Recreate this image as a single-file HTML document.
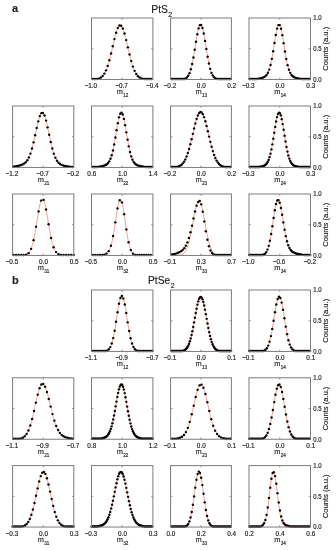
<!DOCTYPE html>
<html><head><meta charset="utf-8"><style>
html,body{margin:0;padding:0;background:#fff;}
body{width:336px;height:550px;overflow:hidden;}
svg{display:block;filter:blur(0.3px);}
text{font-family:"Liberation Sans",sans-serif;fill:#222;stroke:#222;stroke-width:0.15px;}
</style></head><body>
<svg width="336" height="550" viewBox="0 0 336 550">

<text x="12" y="12.4" font-size="11" font-weight="bold" fill="#111">a</text>
<text x="12" y="284.2" font-size="11" font-weight="bold" fill="#111">b</text>
<text x="151.3" y="13.4" font-size="10.3">PtS<tspan font-size="6.9" dx="0.3" dy="3.3">2</tspan></text>
<text x="148" y="284.2" font-size="10.3">PtSe<tspan font-size="6.9" dx="0.3" dy="3.3">2</tspan></text>
<polyline points="91.5,79.41 91.76,79.41 92.01,79.4 92.27,79.4 92.52,79.39 92.78,79.38 93.03,79.37 93.29,79.36 93.55,79.35 93.8,79.34 94.06,79.33 94.31,79.31 94.57,79.29 94.83,79.27 95.08,79.25 95.34,79.23 95.59,79.2 95.85,79.17 96.11,79.14 96.36,79.1 96.62,79.06 96.87,79.02 97.13,78.97 97.38,78.92 97.64,78.86 97.9,78.8 98.15,78.73 98.41,78.65 98.66,78.57 98.92,78.48 99.17,78.38 99.43,78.28 99.69,78.16 99.94,78.04 100.2,77.9 100.45,77.76 100.71,77.6 100.97,77.43 101.22,77.24 101.48,77.05 101.73,76.83 101.99,76.61 102.25,76.36 102.5,76.1 102.76,75.82 103.01,75.53 103.27,75.21 103.52,74.87 103.78,74.52 104.04,74.14 104.29,73.73 104.55,73.31 104.8,72.86 105.06,72.39 105.31,71.89 105.57,71.36 105.83,70.81 106.08,70.23 106.34,69.63 106.59,68.99 106.85,68.33 107.11,67.64 107.36,66.93 107.62,66.18 107.87,65.41 108.13,64.61 108.39,63.78 108.64,62.92 108.9,62.04 109.15,61.13 109.41,60.2 109.66,59.24 109.92,58.26 110.18,57.26 110.43,56.24 110.69,55.2 110.94,54.14 111.2,53.07 111.45,51.99 111.71,50.89 111.97,49.78 112.22,48.67 112.48,47.55 112.73,46.43 112.99,45.31 113.25,44.19 113.5,43.08 113.76,41.97 114.01,40.88 114.27,39.8 114.53,38.74 114.78,37.7 115.04,36.69 115.29,35.7 115.55,34.73 115.8,33.8 116.06,32.91 116.32,32.05 116.57,31.24 116.83,30.46 117.08,29.73 117.34,29.05 117.59,28.42 117.85,27.85 118.11,27.32 118.36,26.85 118.62,26.44 118.87,26.09 119.13,25.8 119.39,25.57 119.64,25.4 119.9,25.3 120.15,25.25 120.41,25.27 120.66,25.36 120.92,25.5 121.18,25.71 121.43,25.98 121.69,26.31 121.94,26.7 122.2,27.14 122.46,27.65 122.71,28.21 122.97,28.82 123.22,29.48 123.48,30.19 123.73,30.95 123.99,31.75 124.25,32.59 124.5,33.47 124.76,34.39 125.01,35.34 125.27,36.32 125.53,37.33 125.78,38.36 126.04,39.41 126.29,40.49 126.55,41.57 126.8,42.67 127.06,43.78 127.32,44.9 127.57,46.02 127.83,47.14 128.08,48.26 128.34,49.38 128.6,50.49 128.85,51.59 129.11,52.68 129.36,53.76 129.62,54.82 129.88,55.87 130.13,56.89 130.39,57.9 130.64,58.89 130.9,59.85 131.15,60.8 131.41,61.71 131.67,62.6 131.92,63.47 132.18,64.31 132.43,65.12 132.69,65.9 132.94,66.66 133.2,67.39 133.46,68.09 133.71,68.76 133.97,69.4 134.22,70.02 134.48,70.6 134.74,71.16 134.99,71.7 135.25,72.21 135.5,72.69 135.76,73.15 136.01,73.58 136.27,73.99 136.53,74.38 136.78,74.75 137.04,75.09 137.29,75.41 137.55,75.72 137.81,76 138.06,76.27 138.32,76.52 138.57,76.75 138.83,76.97 139.09,77.17 139.34,77.36 139.6,77.54 139.85,77.7 140.11,77.85 140.36,77.99 140.62,78.12 140.88,78.24 141.13,78.35 141.39,78.45 141.64,78.54 141.9,78.63 142.16,78.7 142.41,78.77 142.67,78.84 142.92,78.9 143.18,78.95 143.43,79 143.69,79.05 143.95,79.09 144.2,79.13 144.46,79.16 144.71,79.19 144.97,79.22 145.22,79.24 145.48,79.27 145.74,79.29 145.99,79.3 146.25,79.32 146.5,79.33 146.76,79.35 147.02,79.36 147.27,79.37 147.53,79.38 147.78,79.39 148.04,79.39 148.29,79.4 148.55,79.41 148.81,79.41 149.06,79.42 149.32,79.42 149.57,79.42 149.83,79.43 150.09,79.43 150.34,79.43 150.6,79.44 150.85,79.44 151.11,79.44 151.37,79.44 151.62,79.44 151.88,79.44 152.13,79.44 152.39,79.44 152.64,79.45 152.9,79.45" fill="none" stroke="#ec8c80" stroke-width="0.85"/>
<g fill="#0a0505"><circle cx="92.6" cy="78.95" r="1.2"/><circle cx="94.28" cy="78.95" r="1.2"/><circle cx="95.96" cy="78.95" r="1.2"/><circle cx="97.64" cy="78.86" r="1.2"/><circle cx="99.32" cy="78.33" r="1.2"/><circle cx="101" cy="77.4" r="1.2"/><circle cx="102.68" cy="75.91" r="1.2"/><circle cx="104.36" cy="73.62" r="1.2"/><circle cx="106.04" cy="70.33" r="1.2"/><circle cx="107.72" cy="65.88" r="1.2"/><circle cx="109.4" cy="60.23" r="1.2"/><circle cx="111.08" cy="53.57" r="1.2"/><circle cx="112.76" cy="46.31" r="1.2"/><circle cx="114.44" cy="39.09" r="1.2"/><circle cx="116.12" cy="32.71" r="1.2"/><circle cx="117.8" cy="27.96" r="1.2"/><circle cx="119.48" cy="25.5" r="1.2"/><circle cx="121.16" cy="25.69" r="1.2"/><circle cx="122.84" cy="28.51" r="1.2"/><circle cx="124.52" cy="33.54" r="1.2"/><circle cx="126.2" cy="40.09" r="1.2"/><circle cx="127.88" cy="47.37" r="1.2"/><circle cx="129.56" cy="54.57" r="1.2"/><circle cx="131.24" cy="61.11" r="1.2"/><circle cx="132.92" cy="66.59" r="1.2"/><circle cx="134.6" cy="70.87" r="1.2"/><circle cx="136.28" cy="74.01" r="1.2"/><circle cx="137.96" cy="76.17" r="1.2"/><circle cx="139.64" cy="77.57" r="1.2"/><circle cx="141.32" cy="78.42" r="1.2"/><circle cx="143" cy="78.92" r="1.2"/><circle cx="144.68" cy="78.95" r="1.2"/><circle cx="146.36" cy="78.95" r="1.2"/><circle cx="148.04" cy="78.95" r="1.2"/><circle cx="149.72" cy="78.95" r="1.2"/><circle cx="151.4" cy="78.95" r="1.2"/></g>
<rect x="91.5" y="18" width="61.4" height="61.45" fill="none" stroke="#7c7c7c" stroke-width="1"/>
<path d="M91.5 48.73h1.8 M152.9 48.73h-1.8 M122.2 79.45v-1.8 M122.2 18v1.8" stroke="#7c7c7c" stroke-width="0.8" fill="none"/>
<text transform="translate(90.8 88.05) scale(1 1.1)" font-size="6.4" text-anchor="middle">−1.0</text>
<text transform="translate(121.5 88.05) scale(1 1.1)" font-size="6.4" text-anchor="middle">−0.7</text>
<text transform="translate(152.2 88.05) scale(1 1.1)" font-size="6.4" text-anchor="middle">−0.4</text>
<text transform="translate(122.55 94.35) scale(1 1.0)" font-size="7.4" text-anchor="middle">m<tspan font-size="4.6" dx="0.3" dy="2.9">12</tspan></text>
<polyline points="170.6,79.45 170.85,79.45 171.11,79.45 171.36,79.45 171.61,79.45 171.87,79.45 172.12,79.45 172.37,79.45 172.63,79.45 172.88,79.45 173.13,79.45 173.39,79.45 173.64,79.45 173.89,79.45 174.15,79.45 174.4,79.45 174.65,79.45 174.91,79.45 175.16,79.45 175.41,79.45 175.67,79.45 175.92,79.45 176.17,79.45 176.43,79.45 176.68,79.45 176.93,79.45 177.19,79.45 177.44,79.45 177.69,79.45 177.95,79.44 178.2,79.44 178.45,79.44 178.71,79.44 178.96,79.44 179.21,79.43 179.47,79.43 179.72,79.43 179.97,79.42 180.23,79.42 180.48,79.41 180.73,79.4 180.99,79.39 181.24,79.38 181.49,79.37 181.75,79.35 182,79.33 182.25,79.31 182.51,79.29 182.76,79.26 183.01,79.23 183.27,79.19 183.52,79.15 183.77,79.1 184.03,79.04 184.28,78.97 184.53,78.9 184.79,78.81 185.04,78.71 185.29,78.6 185.55,78.48 185.8,78.34 186.05,78.18 186.31,78.01 186.56,77.81 186.81,77.59 187.07,77.35 187.32,77.08 187.57,76.78 187.83,76.45 188.08,76.08 188.33,75.69 188.59,75.25 188.84,74.77 189.09,74.26 189.35,73.7 189.6,73.09 189.85,72.43 190.11,71.73 190.36,70.97 190.61,70.16 190.87,69.3 191.12,68.38 191.37,67.41 191.63,66.38 191.88,65.29 192.13,64.15 192.39,62.95 192.64,61.71 192.89,60.41 193.15,59.06 193.4,57.67 193.65,56.23 193.91,54.76 194.16,53.25 194.41,51.72 194.67,50.16 194.92,48.58 195.17,47 195.43,45.41 195.68,43.82 195.93,42.25 196.19,40.7 196.44,39.17 196.69,37.68 196.95,36.23 197.2,34.83 197.45,33.49 197.71,32.22 197.96,31.03 198.21,29.92 198.47,28.9 198.72,27.98 198.97,27.16 199.23,26.45 199.48,25.85 199.73,25.36 199.99,25 200.24,24.76 200.49,24.65 200.75,24.66 201,24.79 201.25,25.05 201.51,25.43 201.76,25.93 202.01,26.55 202.27,27.28 202.52,28.12 202.77,29.06 203.03,30.09 203.28,31.21 203.53,32.42 203.79,33.7 204.04,35.05 204.29,36.45 204.55,37.91 204.8,39.41 205.05,40.94 205.31,42.5 205.56,44.07 205.81,45.66 206.07,47.25 206.32,48.83 206.57,50.41 206.83,51.96 207.08,53.49 207.33,54.99 207.59,56.46 207.84,57.89 208.09,59.27 208.35,60.61 208.6,61.91 208.85,63.15 209.11,64.33 209.36,65.46 209.61,66.54 209.87,67.56 210.12,68.53 210.37,69.44 210.63,70.29 210.88,71.09 211.13,71.84 211.39,72.54 211.64,73.19 211.89,73.79 212.15,74.34 212.4,74.85 212.65,75.32 212.91,75.75 213.16,76.14 213.41,76.5 213.67,76.83 213.92,77.12 214.17,77.39 214.43,77.63 214.68,77.84 214.93,78.04 215.19,78.21 215.44,78.36 215.69,78.5 215.95,78.62 216.2,78.73 216.45,78.82 216.71,78.91 216.96,78.98 217.21,79.05 217.47,79.1 217.72,79.15 217.97,79.2 218.23,79.23 218.48,79.26 218.73,79.29 218.99,79.32 219.24,79.34 219.49,79.35 219.75,79.37 220,79.38 220.25,79.39 220.51,79.4 220.76,79.41 221.01,79.42 221.27,79.42 221.52,79.43 221.77,79.43 222.03,79.43 222.28,79.44 222.53,79.44 222.79,79.44 223.04,79.44 223.29,79.44 223.55,79.45 223.8,79.45 224.05,79.45 224.31,79.45 224.56,79.45 224.81,79.45 225.07,79.45 225.32,79.45 225.57,79.45 225.83,79.45 226.08,79.45 226.33,79.45 226.59,79.45 226.84,79.45 227.09,79.45 227.35,79.45 227.6,79.45 227.85,79.45 228.11,79.45 228.36,79.45 228.61,79.45 228.87,79.45 229.12,79.45 229.37,79.45 229.63,79.45 229.88,79.45 230.13,79.45 230.39,79.45 230.64,79.45 230.89,79.45 231.15,79.45 231.4,79.45" fill="none" stroke="#ec8c80" stroke-width="0.85"/>
<g fill="#0a0505"><circle cx="171.51" cy="78.95" r="1.2"/><circle cx="172.8" cy="78.95" r="1.2"/><circle cx="174.09" cy="78.95" r="1.2"/><circle cx="175.38" cy="78.95" r="1.2"/><circle cx="176.67" cy="78.95" r="1.2"/><circle cx="177.96" cy="78.95" r="1.2"/><circle cx="179.25" cy="78.95" r="1.2"/><circle cx="180.54" cy="78.95" r="1.2"/><circle cx="181.83" cy="78.95" r="1.2"/><circle cx="183.12" cy="78.95" r="1.2"/><circle cx="184.41" cy="78.93" r="1.2"/><circle cx="185.7" cy="78.4" r="1.2"/><circle cx="186.99" cy="77.42" r="1.2"/><circle cx="188.28" cy="75.77" r="1.2"/><circle cx="189.57" cy="73.16" r="1.2"/><circle cx="190.86" cy="69.32" r="1.2"/><circle cx="192.15" cy="64.07" r="1.2"/><circle cx="193.44" cy="57.44" r="1.2"/><circle cx="194.73" cy="49.77" r="1.2"/><circle cx="196.02" cy="41.72" r="1.2"/><circle cx="197.31" cy="34.24" r="1.2"/><circle cx="198.6" cy="28.4" r="1.2"/><circle cx="199.89" cy="25.13" r="1.2"/><circle cx="201.18" cy="24.96" r="1.2"/><circle cx="202.47" cy="27.94" r="1.2"/><circle cx="203.76" cy="33.56" r="1.2"/><circle cx="205.05" cy="40.92" r="1.2"/><circle cx="206.34" cy="48.96" r="1.2"/><circle cx="207.63" cy="56.71" r="1.2"/><circle cx="208.92" cy="63.46" r="1.2"/><circle cx="210.21" cy="68.86" r="1.2"/><circle cx="211.5" cy="72.84" r="1.2"/><circle cx="212.79" cy="75.56" r="1.2"/><circle cx="214.08" cy="77.29" r="1.2"/><circle cx="215.37" cy="78.32" r="1.2"/><circle cx="216.66" cy="78.89" r="1.2"/><circle cx="217.95" cy="78.95" r="1.2"/><circle cx="219.24" cy="78.95" r="1.2"/><circle cx="220.53" cy="78.95" r="1.2"/><circle cx="221.82" cy="78.95" r="1.2"/><circle cx="223.11" cy="78.95" r="1.2"/><circle cx="224.4" cy="78.95" r="1.2"/><circle cx="225.69" cy="78.95" r="1.2"/><circle cx="226.98" cy="78.95" r="1.2"/><circle cx="228.27" cy="78.95" r="1.2"/><circle cx="229.56" cy="78.95" r="1.2"/><circle cx="230.85" cy="78.95" r="1.2"/></g>
<rect x="170.6" y="18" width="60.8" height="61.45" fill="none" stroke="#7c7c7c" stroke-width="1"/>
<path d="M170.6 48.73h1.8 M231.4 48.73h-1.8 M201 79.45v-1.8 M201 18v1.8" stroke="#7c7c7c" stroke-width="0.8" fill="none"/>
<text transform="translate(169.9 88.05) scale(1 1.1)" font-size="6.4" text-anchor="middle">−0.2</text>
<text transform="translate(201.3 88.05) scale(1 1.1)" font-size="6.4" text-anchor="middle">0.0</text>
<text transform="translate(231.7 88.05) scale(1 1.1)" font-size="6.4" text-anchor="middle">0.2</text>
<text transform="translate(201.35 94.35) scale(1 1.0)" font-size="7.4" text-anchor="middle">m<tspan font-size="4.6" dx="0.3" dy="2.9">13</tspan></text>
<polyline points="249,79.38 249.26,79.38 249.51,79.37 249.77,79.37 250.03,79.36 250.28,79.35 250.54,79.34 250.79,79.34 251.05,79.33 251.31,79.32 251.56,79.31 251.82,79.3 252.07,79.29 252.33,79.28 252.59,79.26 252.84,79.25 253.1,79.24 253.36,79.22 253.61,79.21 253.87,79.19 254.12,79.17 254.38,79.16 254.64,79.14 254.89,79.12 255.15,79.1 255.41,79.07 255.66,79.05 255.92,79.03 256.18,79 256.43,78.97 256.69,78.94 256.94,78.92 257.2,78.88 257.46,78.85 257.71,78.82 257.97,78.78 258.23,78.74 258.48,78.7 258.74,78.66 258.99,78.62 259.25,78.57 259.51,78.53 259.76,78.48 260.02,78.43 260.27,78.37 260.53,78.32 260.79,78.26 261.04,78.19 261.3,78.13 261.56,78.06 261.81,77.98 262.07,77.9 262.32,77.82 262.58,77.73 262.84,77.64 263.09,77.54 263.35,77.43 263.61,77.31 263.86,77.18 264.12,77.05 264.38,76.9 264.63,76.74 264.89,76.57 265.14,76.38 265.4,76.18 265.66,75.95 265.91,75.71 266.17,75.44 266.43,75.15 266.68,74.83 266.94,74.48 267.19,74.1 267.45,73.69 267.71,73.24 267.96,72.75 268.22,72.22 268.48,71.64 268.73,71.01 268.99,70.34 269.24,69.61 269.5,68.83 269.76,67.99 270.01,67.1 270.27,66.14 270.52,65.12 270.78,64.05 271.04,62.91 271.29,61.71 271.55,60.45 271.81,59.14 272.06,57.77 272.32,56.34 272.57,54.87 272.83,53.36 273.09,51.81 273.34,50.22 273.6,48.61 273.86,46.98 274.11,45.34 274.37,43.69 274.62,42.06 274.88,40.44 275.14,38.85 275.39,37.29 275.65,35.78 275.91,34.33 276.16,32.94 276.42,31.64 276.68,30.41 276.93,29.29 277.19,28.27 277.44,27.37 277.7,26.58 277.96,25.92 278.21,25.39 278.47,25 278.73,24.75 278.98,24.64 279.24,24.67 279.49,24.85 279.75,25.17 280.01,25.62 280.26,26.21 280.52,26.93 280.77,27.77 281.03,28.73 281.29,29.8 281.54,30.97 281.8,32.23 282.06,33.58 282.31,34.99 282.57,36.47 282.82,38.01 283.08,39.58 283.34,41.19 283.59,42.81 283.85,44.45 284.11,46.1 284.36,47.73 284.62,49.36 284.88,50.96 285.13,52.53 285.39,54.07 285.64,55.56 285.9,57.01 286.16,58.41 286.41,59.75 286.67,61.04 286.93,62.27 287.18,63.44 287.44,64.55 287.69,65.6 287.95,66.59 288.21,67.52 288.46,68.39 288.72,69.2 288.98,69.96 289.23,70.66 289.49,71.31 289.74,71.91 290,72.47 290.26,72.98 290.51,73.45 290.77,73.89 291.02,74.28 291.28,74.65 291.54,74.98 291.79,75.29 292.05,75.57 292.31,75.82 292.56,76.06 292.82,76.27 293.07,76.47 293.33,76.65 293.59,76.82 293.84,76.97 294.1,77.11 294.36,77.24 294.61,77.37 294.87,77.48 295.12,77.58 295.38,77.68 295.64,77.77 295.89,77.86 296.15,77.94 296.41,78.02 296.66,78.09 296.92,78.16 297.18,78.22 297.43,78.28 297.69,78.34 297.94,78.4 298.2,78.45 298.46,78.5 298.71,78.55 298.97,78.6 299.23,78.64 299.48,78.68 299.74,78.72 299.99,78.76 300.25,78.8 300.51,78.83 300.76,78.87 301.02,78.9 301.27,78.93 301.53,78.96 301.79,78.99 302.04,79.01 302.3,79.04 302.56,79.06 302.81,79.08 303.07,79.11 303.32,79.13 303.58,79.15 303.84,79.17 304.09,79.18 304.35,79.2 304.61,79.22 304.86,79.23 305.12,79.24 305.38,79.26 305.63,79.27 305.89,79.28 306.14,79.29 306.4,79.3 306.66,79.31 306.91,79.32 307.17,79.33 307.43,79.34 307.68,79.35 307.94,79.36 308.19,79.36 308.45,79.37 308.71,79.37 308.96,79.38 309.22,79.39 309.48,79.39 309.73,79.39 309.99,79.4 310.24,79.4 310.5,79.41" fill="none" stroke="#ec8c80" stroke-width="0.85"/>
<g fill="#0a0505"><circle cx="249.59" cy="78.95" r="1.2"/><circle cx="250.9" cy="78.95" r="1.2"/><circle cx="252.21" cy="78.95" r="1.2"/><circle cx="253.52" cy="78.95" r="1.2"/><circle cx="254.83" cy="78.95" r="1.2"/><circle cx="256.14" cy="78.95" r="1.2"/><circle cx="257.45" cy="78.85" r="1.2"/><circle cx="258.76" cy="78.66" r="1.2"/><circle cx="260.07" cy="78.42" r="1.2"/><circle cx="261.38" cy="78.1" r="1.2"/><circle cx="262.69" cy="77.69" r="1.2"/><circle cx="264" cy="77.11" r="1.2"/><circle cx="265.31" cy="76.25" r="1.2"/><circle cx="266.62" cy="74.91" r="1.2"/><circle cx="267.93" cy="72.81" r="1.2"/><circle cx="269.24" cy="69.62" r="1.2"/><circle cx="270.55" cy="65.02" r="1.2"/><circle cx="271.86" cy="58.85" r="1.2"/><circle cx="273.17" cy="51.3" r="1.2"/><circle cx="274.48" cy="42.98" r="1.2"/><circle cx="275.79" cy="34.98" r="1.2"/><circle cx="277.1" cy="28.61" r="1.2"/><circle cx="278.41" cy="25.08" r="1.2"/><circle cx="279.72" cy="25.12" r="1.2"/><circle cx="281.03" cy="28.73" r="1.2"/><circle cx="282.34" cy="35.15" r="1.2"/><circle cx="283.65" cy="43.17" r="1.2"/><circle cx="284.96" cy="51.48" r="1.2"/><circle cx="286.27" cy="59.01" r="1.2"/><circle cx="287.58" cy="65.14" r="1.2"/><circle cx="288.89" cy="69.71" r="1.2"/><circle cx="290.2" cy="72.87" r="1.2"/><circle cx="291.51" cy="74.95" r="1.2"/><circle cx="292.82" cy="76.27" r="1.2"/><circle cx="294.13" cy="77.13" r="1.2"/><circle cx="295.44" cy="77.7" r="1.2"/><circle cx="296.75" cy="78.11" r="1.2"/><circle cx="298.06" cy="78.42" r="1.2"/><circle cx="299.37" cy="78.66" r="1.2"/><circle cx="300.68" cy="78.86" r="1.2"/><circle cx="301.99" cy="78.95" r="1.2"/><circle cx="303.3" cy="78.95" r="1.2"/><circle cx="304.61" cy="78.95" r="1.2"/><circle cx="305.92" cy="78.95" r="1.2"/><circle cx="307.23" cy="78.95" r="1.2"/><circle cx="308.54" cy="78.95" r="1.2"/><circle cx="309.85" cy="78.95" r="1.2"/></g>
<rect x="249" y="18" width="61.5" height="61.45" fill="none" stroke="#7c7c7c" stroke-width="1"/>
<path d="M249 48.73h1.8 M310.5 48.73h-1.8 M279.75 79.45v-1.8 M279.75 18v1.8" stroke="#7c7c7c" stroke-width="0.8" fill="none"/>
<text transform="translate(248.3 88.05) scale(1 1.1)" font-size="6.4" text-anchor="middle">−0.3</text>
<text transform="translate(280.05 88.05) scale(1 1.1)" font-size="6.4" text-anchor="middle">0.0</text>
<text transform="translate(310.8 88.05) scale(1 1.1)" font-size="6.4" text-anchor="middle">0.3</text>
<text transform="translate(280.1 94.35) scale(1 1.0)" font-size="7.4" text-anchor="middle">m<tspan font-size="4.6" dx="0.3" dy="2.9">14</tspan></text>
<text transform="translate(313.3 20.4) scale(1 1.17)" font-size="6.0">1.0</text>
<text transform="translate(313.3 51.12) scale(1 1.17)" font-size="6.0">0.5</text>
<text transform="translate(313.3 81.85) scale(1 1.17)" font-size="6.0">0.0</text>
<text transform="translate(328.3 48.73) rotate(-90) scale(1.1 1)" font-size="6.9" text-anchor="middle">Counts (a.u.)</text>
<polyline points="12.6,166.74 12.86,166.71 13.11,166.68 13.37,166.65 13.62,166.62 13.88,166.59 14.13,166.55 14.38,166.52 14.64,166.48 14.89,166.45 15.15,166.41 15.4,166.37 15.66,166.33 15.91,166.29 16.17,166.25 16.43,166.21 16.68,166.16 16.93,166.12 17.19,166.07 17.45,166.02 17.7,165.97 17.95,165.92 18.21,165.86 18.46,165.81 18.72,165.75 18.98,165.69 19.23,165.62 19.48,165.56 19.74,165.49 20,165.42 20.25,165.34 20.5,165.26 20.76,165.18 21.02,165.1 21.27,165.01 21.52,164.91 21.78,164.81 22.04,164.71 22.29,164.6 22.55,164.48 22.8,164.35 23.05,164.22 23.31,164.08 23.56,163.93 23.82,163.78 24.07,163.61 24.33,163.43 24.59,163.24 24.84,163.04 25.09,162.83 25.35,162.6 25.61,162.36 25.86,162.1 26.12,161.82 26.37,161.53 26.62,161.21 26.88,160.88 27.13,160.53 27.39,160.16 27.64,159.76 27.9,159.34 28.16,158.89 28.41,158.42 28.66,157.92 28.92,157.39 29.17,156.84 29.43,156.25 29.69,155.64 29.94,154.99 30.2,154.31 30.45,153.61 30.7,152.86 30.96,152.09 31.22,151.28 31.47,150.45 31.73,149.58 31.98,148.67 32.23,147.74 32.49,146.78 32.74,145.78 33,144.76 33.25,143.71 33.51,142.64 33.77,141.54 34.02,140.43 34.27,139.29 34.53,138.14 34.79,136.97 35.04,135.79 35.3,134.6 35.55,133.41 35.8,132.21 36.06,131.02 36.31,129.83 36.57,128.65 36.83,127.49 37.08,126.34 37.34,125.21 37.59,124.1 37.84,123.03 38.1,121.99 38.36,120.98 38.61,120.02 38.87,119.1 39.12,118.23 39.38,117.41 39.63,116.65 39.89,115.94 40.14,115.3 40.4,114.72 40.65,114.21 40.91,113.76 41.16,113.39 41.41,113.09 41.67,112.87 41.92,112.72 42.18,112.65 42.44,112.65 42.69,112.73 42.95,112.89 43.2,113.13 43.46,113.45 43.71,113.84 43.97,114.31 44.22,114.84 44.48,115.45 44.73,116.13 44.99,116.87 45.24,117.67 45.5,118.52 45.75,119.43 46.01,120.39 46.26,121.39 46.52,122.44 46.77,123.52 47.02,124.64 47.28,125.78 47.53,126.95 47.79,128.14 48.05,129.35 48.3,130.56 48.56,131.79 48.81,133.02 49.07,134.25 49.32,135.47 49.58,136.69 49.83,137.9 50.09,139.09 50.34,140.27 50.6,141.42 50.85,142.56 51.11,143.67 51.36,144.76 51.62,145.82 51.87,146.85 52.12,147.85 52.38,148.82 52.63,149.76 52.89,150.66 53.15,151.53 53.4,152.37 53.66,153.17 53.91,153.94 54.17,154.67 54.42,155.37 54.68,156.04 54.93,156.67 55.19,157.28 55.44,157.85 55.7,158.39 55.95,158.9 56.21,159.39 56.46,159.84 56.72,160.28 56.97,160.68 57.23,161.06 57.48,161.42 57.73,161.76 57.99,162.07 58.25,162.37 58.5,162.65 58.76,162.91 59.01,163.15 59.27,163.38 59.52,163.59 59.77,163.79 60.03,163.98 60.28,164.15 60.54,164.32 60.8,164.47 61.05,164.61 61.31,164.75 61.56,164.87 61.82,164.99 62.07,165.1 62.33,165.21 62.58,165.31 62.84,165.4 63.09,165.49 63.35,165.57 63.6,165.65 63.86,165.73 64.11,165.8 64.36,165.87 64.62,165.93 64.88,165.99 65.13,166.05 65.39,166.11 65.64,166.16 65.89,166.21 66.15,166.26 66.41,166.31 66.66,166.35 66.92,166.4 67.17,166.44 67.42,166.48 67.68,166.52 67.94,166.55 68.19,166.59 68.45,166.63 68.7,166.66 68.95,166.69 69.21,166.72 69.47,166.75 69.72,166.78 69.97,166.81 70.23,166.84 70.48,166.86 70.74,166.89 71,166.91 71.25,166.93 71.5,166.96 71.76,166.98 72.02,167 72.27,167.02 72.52,167.04 72.78,167.06 73.04,167.07 73.29,167.09 73.55,167.11 73.8,167.12" fill="none" stroke="#ec8c80" stroke-width="0.85"/>
<g fill="#0a0505"><circle cx="13.3" cy="166.66" r="1.2"/><circle cx="14.86" cy="166.45" r="1.2"/><circle cx="16.42" cy="166.21" r="1.2"/><circle cx="17.98" cy="165.91" r="1.2"/><circle cx="19.54" cy="165.54" r="1.2"/><circle cx="21.1" cy="165.07" r="1.2"/><circle cx="22.66" cy="164.42" r="1.2"/><circle cx="24.22" cy="163.51" r="1.2"/><circle cx="25.78" cy="162.18" r="1.2"/><circle cx="27.34" cy="160.23" r="1.2"/><circle cx="28.9" cy="157.44" r="1.2"/><circle cx="30.46" cy="153.58" r="1.2"/><circle cx="32.02" cy="148.53" r="1.2"/><circle cx="33.58" cy="142.34" r="1.2"/><circle cx="35.14" cy="135.32" r="1.2"/><circle cx="36.7" cy="128.06" r="1.2"/><circle cx="38.26" cy="121.35" r="1.2"/><circle cx="39.82" cy="116.12" r="1.2"/><circle cx="41.38" cy="113.13" r="1.2"/><circle cx="42.94" cy="112.89" r="1.2"/><circle cx="44.5" cy="115.52" r="1.2"/><circle cx="46.06" cy="120.6" r="1.2"/><circle cx="47.62" cy="127.35" r="1.2"/><circle cx="49.18" cy="134.8" r="1.2"/><circle cx="50.74" cy="142.07" r="1.2"/><circle cx="52.3" cy="148.52" r="1.2"/><circle cx="53.86" cy="153.79" r="1.2"/><circle cx="55.42" cy="157.8" r="1.2"/><circle cx="56.98" cy="160.7" r="1.2"/><circle cx="58.54" cy="162.69" r="1.2"/><circle cx="60.1" cy="164.03" r="1.2"/><circle cx="61.66" cy="164.92" r="1.2"/><circle cx="63.22" cy="165.53" r="1.2"/><circle cx="64.78" cy="165.97" r="1.2"/><circle cx="66.34" cy="166.3" r="1.2"/><circle cx="67.9" cy="166.55" r="1.2"/><circle cx="69.46" cy="166.75" r="1.2"/><circle cx="71.02" cy="166.91" r="1.2"/><circle cx="72.58" cy="166.95" r="1.2"/></g>
<rect x="12.6" y="106" width="61.2" height="61.45" fill="none" stroke="#7c7c7c" stroke-width="1"/>
<path d="M12.6 136.72h1.8 M73.8 136.72h-1.8 M43.2 167.45v-1.8 M43.2 106v1.8" stroke="#7c7c7c" stroke-width="0.8" fill="none"/>
<text transform="translate(11.9 176.05) scale(1 1.1)" font-size="6.4" text-anchor="middle">−1.2</text>
<text transform="translate(42.5 176.05) scale(1 1.1)" font-size="6.4" text-anchor="middle">−0.7</text>
<text transform="translate(73.1 176.05) scale(1 1.1)" font-size="6.4" text-anchor="middle">−0.2</text>
<text transform="translate(43.55 182.35) scale(1 1.0)" font-size="7.4" text-anchor="middle">m<tspan font-size="4.6" dx="0.3" dy="2.9">21</tspan></text>
<polyline points="91.5,167.31 91.76,167.3 92.01,167.29 92.27,167.28 92.52,167.27 92.78,167.26 93.03,167.25 93.29,167.23 93.55,167.22 93.8,167.21 94.06,167.19 94.31,167.18 94.57,167.16 94.83,167.14 95.08,167.13 95.34,167.11 95.59,167.09 95.85,167.07 96.11,167.05 96.36,167.03 96.62,167 96.87,166.98 97.13,166.95 97.38,166.93 97.64,166.9 97.9,166.87 98.15,166.84 98.41,166.81 98.66,166.78 98.92,166.75 99.17,166.71 99.43,166.68 99.69,166.64 99.94,166.6 100.2,166.56 100.45,166.52 100.71,166.48 100.97,166.43 101.22,166.38 101.48,166.33 101.73,166.28 101.99,166.23 102.25,166.17 102.5,166.11 102.76,166.05 103.01,165.98 103.27,165.91 103.52,165.84 103.78,165.76 104.04,165.68 104.29,165.59 104.55,165.49 104.8,165.39 105.06,165.28 105.31,165.16 105.57,165.04 105.83,164.9 106.08,164.75 106.34,164.59 106.59,164.42 106.85,164.23 107.11,164.02 107.36,163.79 107.62,163.55 107.87,163.28 108.13,162.99 108.39,162.68 108.64,162.33 108.9,161.96 109.15,161.56 109.41,161.12 109.66,160.64 109.92,160.12 110.18,159.57 110.43,158.97 110.69,158.32 110.94,157.63 111.2,156.89 111.45,156.1 111.71,155.25 111.97,154.36 112.22,153.41 112.48,152.4 112.73,151.34 112.99,150.23 113.25,149.06 113.5,147.84 113.76,146.57 114.01,145.25 114.27,143.89 114.53,142.48 114.78,141.04 115.04,139.56 115.29,138.06 115.55,136.53 115.8,134.99 116.06,133.44 116.32,131.89 116.57,130.34 116.83,128.81 117.08,127.3 117.34,125.81 117.59,124.37 117.85,122.98 118.11,121.64 118.36,120.36 118.62,119.16 118.87,118.04 119.13,117.01 119.39,116.07 119.64,115.24 119.9,114.51 120.15,113.9 120.41,113.4 120.66,113.03 120.92,112.78 121.18,112.65 121.43,112.65 121.69,112.78 121.94,113.04 122.2,113.42 122.46,113.92 122.71,114.53 122.97,115.26 123.22,116.1 123.48,117.04 123.73,118.08 123.99,119.2 124.25,120.41 124.5,121.68 124.76,123.03 125.01,124.42 125.27,125.87 125.53,127.35 125.78,128.86 126.04,130.4 126.29,131.94 126.55,133.5 126.8,135.05 127.06,136.59 127.32,138.11 127.57,139.62 127.83,141.09 128.08,142.53 128.34,143.94 128.6,145.3 128.85,146.61 129.11,147.88 129.36,149.1 129.62,150.27 129.88,151.38 130.13,152.44 130.39,153.44 130.64,154.39 130.9,155.28 131.15,156.13 131.41,156.92 131.67,157.66 131.92,158.35 132.18,158.99 132.43,159.59 132.69,160.14 132.94,160.66 133.2,161.13 133.46,161.57 133.71,161.97 133.97,162.35 134.22,162.69 134.48,163 134.74,163.29 134.99,163.56 135.25,163.8 135.5,164.03 135.76,164.23 136.01,164.42 136.27,164.6 136.53,164.76 136.78,164.9 137.04,165.04 137.29,165.17 137.55,165.29 137.81,165.39 138.06,165.5 138.32,165.59 138.57,165.68 138.83,165.76 139.09,165.84 139.34,165.91 139.6,165.98 139.85,166.05 140.11,166.11 140.36,166.17 140.62,166.23 140.88,166.28 141.13,166.34 141.39,166.39 141.64,166.43 141.9,166.48 142.16,166.52 142.41,166.56 142.67,166.6 142.92,166.64 143.18,166.68 143.43,166.72 143.69,166.75 143.95,166.78 144.2,166.81 144.46,166.85 144.71,166.87 144.97,166.9 145.22,166.93 145.48,166.96 145.74,166.98 145.99,167 146.25,167.03 146.5,167.05 146.76,167.07 147.02,167.09 147.27,167.11 147.53,167.13 147.78,167.15 148.04,167.16 148.29,167.18 148.55,167.19 148.81,167.21 149.06,167.22 149.32,167.23 149.57,167.25 149.83,167.26 150.09,167.27 150.34,167.28 150.6,167.29 150.85,167.3 151.11,167.31 151.37,167.32 151.62,167.33 151.88,167.33 152.13,167.34 152.39,167.35 152.64,167.35 152.9,167.36" fill="none" stroke="#ec8c80" stroke-width="0.85"/>
<g fill="#0a0505"><circle cx="92.2" cy="166.95" r="1.2"/><circle cx="93.42" cy="166.95" r="1.2"/><circle cx="94.64" cy="166.95" r="1.2"/><circle cx="95.86" cy="166.95" r="1.2"/><circle cx="97.08" cy="166.95" r="1.2"/><circle cx="98.3" cy="166.83" r="1.2"/><circle cx="99.52" cy="166.67" r="1.2"/><circle cx="100.74" cy="166.47" r="1.2"/><circle cx="101.96" cy="166.23" r="1.2"/><circle cx="103.18" cy="165.94" r="1.2"/><circle cx="104.4" cy="165.55" r="1.2"/><circle cx="105.62" cy="165.01" r="1.2"/><circle cx="106.84" cy="164.23" r="1.2"/><circle cx="108.06" cy="163.07" r="1.2"/><circle cx="109.28" cy="161.34" r="1.2"/><circle cx="110.5" cy="158.8" r="1.2"/><circle cx="111.72" cy="155.22" r="1.2"/><circle cx="112.94" cy="150.45" r="1.2"/><circle cx="114.16" cy="144.47" r="1.2"/><circle cx="115.38" cy="137.54" r="1.2"/><circle cx="116.6" cy="130.17" r="1.2"/><circle cx="117.82" cy="123.14" r="1.2"/><circle cx="119.04" cy="117.36" r="1.2"/><circle cx="120.26" cy="113.68" r="1.2"/><circle cx="121.48" cy="112.67" r="1.2"/><circle cx="122.7" cy="114.5" r="1.2"/><circle cx="123.92" cy="118.88" r="1.2"/><circle cx="125.14" cy="125.13" r="1.2"/><circle cx="126.36" cy="132.35" r="1.2"/><circle cx="127.58" cy="139.66" r="1.2"/><circle cx="128.8" cy="146.35" r="1.2"/><circle cx="130.02" cy="151.99" r="1.2"/><circle cx="131.24" cy="156.4" r="1.2"/><circle cx="132.46" cy="159.65" r="1.2"/><circle cx="133.68" cy="161.93" r="1.2"/><circle cx="134.9" cy="163.47" r="1.2"/><circle cx="136.12" cy="164.5" r="1.2"/><circle cx="137.34" cy="165.19" r="1.2"/><circle cx="138.56" cy="165.67" r="1.2"/><circle cx="139.78" cy="166.03" r="1.2"/><circle cx="141" cy="166.31" r="1.2"/><circle cx="142.22" cy="166.53" r="1.2"/><circle cx="143.44" cy="166.72" r="1.2"/><circle cx="144.66" cy="166.87" r="1.2"/><circle cx="145.88" cy="166.95" r="1.2"/><circle cx="147.1" cy="166.95" r="1.2"/><circle cx="148.32" cy="166.95" r="1.2"/><circle cx="149.54" cy="166.95" r="1.2"/><circle cx="150.76" cy="166.95" r="1.2"/><circle cx="151.98" cy="166.95" r="1.2"/></g>
<rect x="91.5" y="106" width="61.4" height="61.45" fill="none" stroke="#7c7c7c" stroke-width="1"/>
<path d="M91.5 136.72h1.8 M152.9 136.72h-1.8 M122.2 167.45v-1.8 M122.2 106v1.8" stroke="#7c7c7c" stroke-width="0.8" fill="none"/>
<text transform="translate(91.8 176.05) scale(1 1.1)" font-size="6.4" text-anchor="middle">0.6</text>
<text transform="translate(122.5 176.05) scale(1 1.1)" font-size="6.4" text-anchor="middle">1.0</text>
<text transform="translate(153.2 176.05) scale(1 1.1)" font-size="6.4" text-anchor="middle">1.4</text>
<text transform="translate(122.55 182.35) scale(1 1.0)" font-size="7.4" text-anchor="middle">m<tspan font-size="4.6" dx="0.3" dy="2.9">22</tspan></text>
<polyline points="170.6,167.42 170.85,167.41 171.11,167.41 171.36,167.4 171.61,167.4 171.87,167.39 172.12,167.38 172.37,167.37 172.63,167.36 172.88,167.35 173.13,167.34 173.39,167.33 173.64,167.31 173.89,167.3 174.15,167.28 174.4,167.26 174.65,167.24 174.91,167.21 175.16,167.19 175.41,167.16 175.67,167.12 175.92,167.09 176.17,167.05 176.43,167.01 176.68,166.96 176.93,166.91 177.19,166.85 177.44,166.79 177.69,166.72 177.95,166.65 178.2,166.57 178.45,166.49 178.71,166.39 178.96,166.29 179.21,166.19 179.47,166.07 179.72,165.94 179.97,165.8 180.23,165.66 180.48,165.5 180.73,165.33 180.99,165.15 181.24,164.95 181.49,164.74 181.75,164.52 182,164.28 182.25,164.03 182.51,163.76 182.76,163.47 183.01,163.16 183.27,162.84 183.52,162.49 183.77,162.13 184.03,161.74 184.28,161.34 184.53,160.91 184.79,160.46 185.04,159.99 185.29,159.49 185.55,158.97 185.8,158.42 186.05,157.85 186.31,157.25 186.56,156.63 186.81,155.98 187.07,155.31 187.32,154.61 187.57,153.88 187.83,153.13 188.08,152.35 188.33,151.55 188.59,150.72 188.84,149.87 189.09,148.99 189.35,148.09 189.6,147.17 189.85,146.22 190.11,145.26 190.36,144.27 190.61,143.27 190.87,142.25 191.12,141.21 191.37,140.17 191.63,139.1 191.88,138.03 192.13,136.95 192.39,135.87 192.64,134.78 192.89,133.69 193.15,132.6 193.4,131.51 193.65,130.42 193.91,129.35 194.16,128.28 194.41,127.23 194.67,126.19 194.92,125.17 195.17,124.17 195.43,123.19 195.68,122.24 195.93,121.32 196.19,120.43 196.44,119.57 196.69,118.75 196.95,117.96 197.2,117.22 197.45,116.51 197.71,115.86 197.96,115.25 198.21,114.68 198.47,114.17 198.72,113.71 198.97,113.3 199.23,112.95 199.48,112.65 199.73,112.41 199.99,112.23 200.24,112.1 200.49,112.03 200.75,112.03 201,112.07 201.25,112.18 201.51,112.35 201.76,112.57 202.01,112.85 202.27,113.19 202.52,113.58 202.77,114.02 203.03,114.52 203.28,115.06 203.53,115.66 203.79,116.3 204.04,116.99 204.29,117.72 204.55,118.49 204.8,119.3 205.05,120.15 205.31,121.03 205.56,121.95 205.81,122.89 206.07,123.86 206.32,124.85 206.57,125.87 206.83,126.9 207.08,127.95 207.33,129.01 207.59,130.08 207.84,131.16 208.09,132.25 208.35,133.34 208.6,134.43 208.85,135.53 209.11,136.61 209.36,137.69 209.61,138.77 209.87,139.83 210.12,140.88 210.37,141.92 210.63,142.95 210.88,143.96 211.13,144.95 211.39,145.92 211.64,146.87 211.89,147.8 212.15,148.71 212.4,149.59 212.65,150.45 212.91,151.29 213.16,152.1 213.41,152.89 213.67,153.65 213.92,154.38 214.17,155.09 214.43,155.77 214.68,156.43 214.93,157.06 215.19,157.67 215.44,158.24 215.69,158.8 215.95,159.33 216.2,159.83 216.45,160.31 216.71,160.77 216.96,161.21 217.21,161.62 217.47,162.01 217.72,162.38 217.97,162.73 218.23,163.06 218.48,163.37 218.73,163.67 218.99,163.94 219.24,164.2 219.49,164.45 219.75,164.67 220,164.89 220.25,165.09 220.51,165.27 220.76,165.45 221.01,165.61 221.27,165.76 221.52,165.9 221.77,166.03 222.03,166.15 222.28,166.26 222.53,166.36 222.79,166.46 223.04,166.55 223.29,166.63 223.55,166.7 223.8,166.77 224.05,166.83 224.31,166.89 224.56,166.94 224.81,166.99 225.07,167.04 225.32,167.08 225.57,167.11 225.83,167.15 226.08,167.18 226.33,167.2 226.59,167.23 226.84,167.25 227.09,167.27 227.35,167.29 227.6,167.31 227.85,167.32 228.11,167.34 228.36,167.35 228.61,167.36 228.87,167.37 229.12,167.38 229.37,167.39 229.63,167.39 229.88,167.4 230.13,167.41 230.39,167.41 230.64,167.42 230.89,167.42 231.15,167.42 231.4,167.43" fill="none" stroke="#ec8c80" stroke-width="0.85"/>
<g fill="#0a0505"><circle cx="171.6" cy="166.95" r="1.2"/><circle cx="172.85" cy="166.95" r="1.2"/><circle cx="174.1" cy="166.95" r="1.2"/><circle cx="175.35" cy="166.95" r="1.2"/><circle cx="176.6" cy="166.95" r="1.2"/><circle cx="177.85" cy="166.68" r="1.2"/><circle cx="179.1" cy="166.23" r="1.2"/><circle cx="180.35" cy="165.58" r="1.2"/><circle cx="181.6" cy="164.65" r="1.2"/><circle cx="182.85" cy="163.36" r="1.2"/><circle cx="184.1" cy="161.63" r="1.2"/><circle cx="185.35" cy="159.38" r="1.2"/><circle cx="186.6" cy="156.53" r="1.2"/><circle cx="187.85" cy="153.06" r="1.2"/><circle cx="189.1" cy="148.97" r="1.2"/><circle cx="190.35" cy="144.31" r="1.2"/><circle cx="191.6" cy="139.22" r="1.2"/><circle cx="192.85" cy="133.87" r="1.2"/><circle cx="194.1" cy="128.53" r="1.2"/><circle cx="195.35" cy="123.49" r="1.2"/><circle cx="196.6" cy="119.04" r="1.2"/><circle cx="197.85" cy="115.5" r="1.2"/><circle cx="199.1" cy="113.12" r="1.2"/><circle cx="200.35" cy="112.07" r="1.2"/><circle cx="201.6" cy="112.42" r="1.2"/><circle cx="202.85" cy="114.16" r="1.2"/><circle cx="204.1" cy="117.16" r="1.2"/><circle cx="205.35" cy="121.19" r="1.2"/><circle cx="206.6" cy="125.97" r="1.2"/><circle cx="207.85" cy="131.21" r="1.2"/><circle cx="209.1" cy="136.58" r="1.2"/><circle cx="210.35" cy="141.83" r="1.2"/><circle cx="211.6" cy="146.72" r="1.2"/><circle cx="212.85" cy="151.11" r="1.2"/><circle cx="214.1" cy="154.89" r="1.2"/><circle cx="215.35" cy="158.04" r="1.2"/><circle cx="216.6" cy="160.58" r="1.2"/><circle cx="217.85" cy="162.56" r="1.2"/><circle cx="219.1" cy="164.06" r="1.2"/><circle cx="220.35" cy="165.16" r="1.2"/><circle cx="221.6" cy="165.94" r="1.2"/><circle cx="222.85" cy="166.48" r="1.2"/><circle cx="224.1" cy="166.84" r="1.2"/><circle cx="225.35" cy="166.95" r="1.2"/><circle cx="226.6" cy="166.95" r="1.2"/><circle cx="227.85" cy="166.95" r="1.2"/><circle cx="229.1" cy="166.95" r="1.2"/><circle cx="230.35" cy="166.95" r="1.2"/></g>
<rect x="170.6" y="106" width="60.8" height="61.45" fill="none" stroke="#7c7c7c" stroke-width="1"/>
<path d="M170.6 136.72h1.8 M231.4 136.72h-1.8 M201 167.45v-1.8 M201 106v1.8" stroke="#7c7c7c" stroke-width="0.8" fill="none"/>
<text transform="translate(169.9 176.05) scale(1 1.1)" font-size="6.4" text-anchor="middle">−0.2</text>
<text transform="translate(201.3 176.05) scale(1 1.1)" font-size="6.4" text-anchor="middle">0.0</text>
<text transform="translate(231.7 176.05) scale(1 1.1)" font-size="6.4" text-anchor="middle">0.2</text>
<text transform="translate(201.35 182.35) scale(1 1.0)" font-size="7.4" text-anchor="middle">m<tspan font-size="4.6" dx="0.3" dy="2.9">23</tspan></text>
<polyline points="249,167.41 249.26,167.41 249.51,167.41 249.77,167.4 250.03,167.4 250.28,167.39 250.54,167.39 250.79,167.38 251.05,167.38 251.31,167.37 251.56,167.37 251.82,167.36 252.07,167.36 252.33,167.35 252.59,167.34 252.84,167.34 253.1,167.33 253.36,167.32 253.61,167.31 253.87,167.3 254.12,167.29 254.38,167.28 254.64,167.27 254.89,167.26 255.15,167.25 255.41,167.23 255.66,167.22 255.92,167.2 256.18,167.19 256.43,167.17 256.69,167.16 256.94,167.14 257.2,167.12 257.46,167.1 257.71,167.08 257.97,167.06 258.23,167.03 258.48,167.01 258.74,166.98 258.99,166.96 259.25,166.93 259.51,166.9 259.76,166.87 260.02,166.83 260.27,166.8 260.53,166.76 260.79,166.72 261.04,166.67 261.3,166.62 261.56,166.57 261.81,166.52 262.07,166.46 262.32,166.39 262.58,166.32 262.84,166.24 263.09,166.16 263.35,166.06 263.61,165.96 263.86,165.85 264.12,165.73 264.38,165.59 264.63,165.44 264.89,165.28 265.14,165.09 265.4,164.89 265.66,164.67 265.91,164.43 266.17,164.16 266.43,163.86 266.68,163.54 266.94,163.18 267.19,162.8 267.45,162.37 267.71,161.9 267.96,161.4 268.22,160.85 268.48,160.25 268.73,159.61 268.99,158.91 269.24,158.16 269.5,157.36 269.76,156.5 270.01,155.58 270.27,154.61 270.52,153.57 270.78,152.47 271.04,151.32 271.29,150.11 271.55,148.84 271.81,147.51 272.06,146.14 272.32,144.71 272.57,143.24 272.83,141.72 273.09,140.17 273.34,138.6 273.6,136.99 273.86,135.37 274.11,133.74 274.37,132.11 274.62,130.49 274.88,128.88 275.14,127.3 275.39,125.76 275.65,124.25 275.91,122.8 276.16,121.42 276.42,120.1 276.68,118.87 276.93,117.73 277.19,116.69 277.44,115.75 277.7,114.93 277.96,114.22 278.21,113.64 278.47,113.19 278.73,112.87 278.98,112.69 279.24,112.64 279.49,112.73 279.75,112.95 280.01,113.31 280.26,113.8 280.52,114.42 280.77,115.16 281.03,116.01 281.29,116.98 281.54,118.06 281.8,119.22 282.06,120.48 282.31,121.82 282.57,123.22 282.82,124.69 283.08,126.2 283.34,127.76 283.59,129.35 283.85,130.96 284.11,132.59 284.36,134.22 284.62,135.85 284.88,137.46 285.13,139.06 285.39,140.63 285.64,142.17 285.9,143.67 286.16,145.13 286.41,146.54 286.67,147.91 286.93,149.21 287.18,150.47 287.44,151.66 287.69,152.8 287.95,153.88 288.21,154.9 288.46,155.86 288.72,156.76 288.98,157.6 289.23,158.39 289.49,159.12 289.74,159.8 290,160.43 290.26,161.01 290.51,161.55 290.77,162.04 291.02,162.5 291.28,162.91 291.54,163.29 291.79,163.64 292.05,163.95 292.31,164.24 292.56,164.5 292.82,164.74 293.07,164.95 293.33,165.15 293.59,165.33 293.84,165.49 294.1,165.63 294.36,165.76 294.61,165.88 294.87,165.99 295.12,166.09 295.38,166.18 295.64,166.27 295.89,166.34 296.15,166.41 296.41,166.47 296.66,166.53 296.92,166.59 297.18,166.64 297.43,166.68 297.69,166.73 297.94,166.77 298.2,166.81 298.46,166.84 298.71,166.88 298.97,166.91 299.23,166.94 299.48,166.96 299.74,166.99 299.99,167.02 300.25,167.04 300.51,167.06 300.76,167.08 301.02,167.11 301.27,167.12 301.53,167.14 301.79,167.16 302.04,167.18 302.3,167.19 302.56,167.21 302.81,167.22 303.07,167.24 303.32,167.25 303.58,167.26 303.84,167.27 304.09,167.28 304.35,167.29 304.61,167.3 304.86,167.31 305.12,167.32 305.38,167.33 305.63,167.34 305.89,167.35 306.14,167.35 306.4,167.36 306.66,167.36 306.91,167.37 307.17,167.38 307.43,167.38 307.68,167.39 307.94,167.39 308.19,167.39 308.45,167.4 308.71,167.4 308.96,167.41 309.22,167.41 309.48,167.41 309.73,167.42 309.99,167.42 310.24,167.42 310.5,167.42" fill="none" stroke="#ec8c80" stroke-width="0.85"/>
<g fill="#0a0505"><circle cx="249.82" cy="166.95" r="1.2"/><circle cx="250.76" cy="166.95" r="1.2"/><circle cx="251.7" cy="166.95" r="1.2"/><circle cx="252.64" cy="166.95" r="1.2"/><circle cx="253.58" cy="166.95" r="1.2"/><circle cx="254.52" cy="166.95" r="1.2"/><circle cx="255.46" cy="166.95" r="1.2"/><circle cx="256.4" cy="166.95" r="1.2"/><circle cx="257.34" cy="166.95" r="1.2"/><circle cx="258.28" cy="166.95" r="1.2"/><circle cx="259.22" cy="166.93" r="1.2"/><circle cx="260.16" cy="166.81" r="1.2"/><circle cx="261.1" cy="166.66" r="1.2"/><circle cx="262.04" cy="166.46" r="1.2"/><circle cx="262.98" cy="166.2" r="1.2"/><circle cx="263.92" cy="165.82" r="1.2"/><circle cx="264.86" cy="165.29" r="1.2"/><circle cx="265.8" cy="164.54" r="1.2"/><circle cx="266.74" cy="163.46" r="1.2"/><circle cx="267.68" cy="161.95" r="1.2"/><circle cx="268.62" cy="159.89" r="1.2"/><circle cx="269.56" cy="157.16" r="1.2"/><circle cx="270.5" cy="153.67" r="1.2"/><circle cx="271.44" cy="149.39" r="1.2"/><circle cx="272.38" cy="144.36" r="1.2"/><circle cx="273.32" cy="138.74" r="1.2"/><circle cx="274.26" cy="132.8" r="1.2"/><circle cx="275.2" cy="126.92" r="1.2"/><circle cx="276.14" cy="121.54" r="1.2"/><circle cx="277.08" cy="117.11" r="1.2"/><circle cx="278.02" cy="114.07" r="1.2"/><circle cx="278.96" cy="112.7" r="1.2"/><circle cx="279.9" cy="113.14" r="1.2"/><circle cx="280.84" cy="115.36" r="1.2"/><circle cx="281.78" cy="119.13" r="1.2"/><circle cx="282.72" cy="124.08" r="1.2"/><circle cx="283.66" cy="129.77" r="1.2"/><circle cx="284.6" cy="135.73" r="1.2"/><circle cx="285.54" cy="141.55" r="1.2"/><circle cx="286.48" cy="146.91" r="1.2"/><circle cx="287.42" cy="151.58" r="1.2"/><circle cx="288.36" cy="155.48" r="1.2"/><circle cx="289.3" cy="158.59" r="1.2"/><circle cx="290.24" cy="160.98" r="1.2"/><circle cx="291.18" cy="162.75" r="1.2"/><circle cx="292.12" cy="164.04" r="1.2"/><circle cx="293.06" cy="164.94" r="1.2"/><circle cx="294" cy="165.58" r="1.2"/><circle cx="294.94" cy="166.02" r="1.2"/><circle cx="295.88" cy="166.34" r="1.2"/><circle cx="296.82" cy="166.57" r="1.2"/><circle cx="297.76" cy="166.74" r="1.2"/><circle cx="298.7" cy="166.87" r="1.2"/><circle cx="299.64" cy="166.95" r="1.2"/><circle cx="300.58" cy="166.95" r="1.2"/><circle cx="301.52" cy="166.95" r="1.2"/><circle cx="302.46" cy="166.95" r="1.2"/><circle cx="303.4" cy="166.95" r="1.2"/><circle cx="304.34" cy="166.95" r="1.2"/><circle cx="305.28" cy="166.95" r="1.2"/><circle cx="306.22" cy="166.95" r="1.2"/><circle cx="307.16" cy="166.95" r="1.2"/><circle cx="308.1" cy="166.95" r="1.2"/><circle cx="309.04" cy="166.95" r="1.2"/><circle cx="309.98" cy="166.95" r="1.2"/></g>
<rect x="249" y="106" width="61.5" height="61.45" fill="none" stroke="#7c7c7c" stroke-width="1"/>
<path d="M249 136.72h1.8 M310.5 136.72h-1.8 M279.75 167.45v-1.8 M279.75 106v1.8" stroke="#7c7c7c" stroke-width="0.8" fill="none"/>
<text transform="translate(248.3 176.05) scale(1 1.1)" font-size="6.4" text-anchor="middle">−0.3</text>
<text transform="translate(280.05 176.05) scale(1 1.1)" font-size="6.4" text-anchor="middle">0.0</text>
<text transform="translate(310.8 176.05) scale(1 1.1)" font-size="6.4" text-anchor="middle">0.3</text>
<text transform="translate(280.1 182.35) scale(1 1.0)" font-size="7.4" text-anchor="middle">m<tspan font-size="4.6" dx="0.3" dy="2.9">24</tspan></text>
<text transform="translate(313.3 108.4) scale(1 1.17)" font-size="6.0">1.0</text>
<text transform="translate(313.3 139.12) scale(1 1.17)" font-size="6.0">0.5</text>
<text transform="translate(313.3 169.85) scale(1 1.17)" font-size="6.0">0.0</text>
<text transform="translate(328.3 136.72) rotate(-90) scale(1.1 1)" font-size="6.9" text-anchor="middle">Counts (a.u.)</text>
<polyline points="12.6,255.45 12.86,255.45 13.11,255.45 13.37,255.45 13.62,255.45 13.88,255.45 14.13,255.45 14.38,255.45 14.64,255.45 14.89,255.45 15.15,255.45 15.4,255.45 15.66,255.45 15.91,255.45 16.17,255.45 16.43,255.45 16.68,255.45 16.93,255.45 17.19,255.45 17.45,255.45 17.7,255.45 17.95,255.45 18.21,255.45 18.46,255.45 18.72,255.45 18.98,255.44 19.23,255.44 19.48,255.44 19.74,255.44 20,255.44 20.25,255.43 20.5,255.43 20.76,255.43 21.02,255.42 21.27,255.42 21.52,255.41 21.78,255.4 22.04,255.39 22.29,255.38 22.55,255.37 22.8,255.36 23.05,255.34 23.31,255.32 23.56,255.3 23.82,255.27 24.07,255.24 24.33,255.21 24.59,255.17 24.84,255.12 25.09,255.07 25.35,255.01 25.61,254.94 25.86,254.87 26.12,254.78 26.37,254.68 26.62,254.57 26.88,254.45 27.13,254.31 27.39,254.15 27.64,253.97 27.9,253.78 28.16,253.56 28.41,253.32 28.66,253.06 28.92,252.76 29.17,252.44 29.43,252.08 29.69,251.7 29.94,251.27 30.2,250.81 30.45,250.31 30.7,249.77 30.96,249.18 31.22,248.55 31.47,247.87 31.73,247.14 31.98,246.35 32.23,245.52 32.49,244.64 32.74,243.7 33,242.7 33.25,241.66 33.51,240.55 33.77,239.4 34.02,238.19 34.27,236.93 34.53,235.62 34.79,234.27 35.04,232.87 35.3,231.43 35.55,229.95 35.8,228.44 36.06,226.9 36.31,225.34 36.57,223.77 36.83,222.18 37.08,220.59 37.34,219 37.59,217.41 37.84,215.85 38.1,214.31 38.36,212.8 38.61,211.33 38.87,209.91 39.12,208.54 39.38,207.24 39.63,206 39.89,204.85 40.14,203.78 40.4,202.79 40.65,201.91 40.91,201.13 41.16,200.45 41.41,199.88 41.67,199.43 41.92,199.1 42.18,198.89 42.44,198.8 42.69,198.83 42.95,198.97 43.2,199.24 43.46,199.62 43.71,200.11 43.97,200.71 44.22,201.42 44.48,202.24 44.73,203.14 44.99,204.14 45.24,205.23 45.5,206.39 45.75,207.63 46.01,208.93 46.26,210.29 46.52,211.7 46.77,213.16 47.02,214.65 47.28,216.16 47.53,217.7 47.79,219.25 48.05,220.81 48.3,222.37 48.56,223.92 48.81,225.46 49.07,226.98 49.32,228.48 49.58,229.95 49.83,231.39 50.09,232.79 50.34,234.15 50.6,235.46 50.85,236.73 51.11,237.95 51.36,239.13 51.62,240.25 51.87,241.32 52.12,242.34 52.38,243.31 52.63,244.22 52.89,245.09 53.15,245.9 53.4,246.66 53.66,247.38 53.91,248.05 54.17,248.67 54.42,249.25 54.68,249.79 54.93,250.29 55.19,250.75 55.44,251.17 55.7,251.56 55.95,251.92 56.21,252.25 56.46,252.55 56.72,252.82 56.97,253.07 57.23,253.3 57.48,253.51 57.73,253.69 57.99,253.86 58.25,254.02 58.5,254.16 58.76,254.28 59.01,254.39 59.27,254.5 59.52,254.59 59.77,254.67 60.03,254.74 60.28,254.81 60.54,254.87 60.8,254.92 61.05,254.97 61.31,255.02 61.56,255.06 61.82,255.09 62.07,255.12 62.33,255.15 62.58,255.18 62.84,255.2 63.09,255.22 63.35,255.24 63.6,255.26 63.86,255.27 64.11,255.29 64.36,255.3 64.62,255.31 64.88,255.32 65.13,255.33 65.39,255.34 65.64,255.35 65.89,255.36 66.15,255.37 66.41,255.37 66.66,255.38 66.92,255.39 67.17,255.39 67.42,255.4 67.68,255.4 67.94,255.4 68.19,255.41 68.45,255.41 68.7,255.41 68.95,255.42 69.21,255.42 69.47,255.42 69.72,255.42 69.97,255.43 70.23,255.43 70.48,255.43 70.74,255.43 71,255.43 71.25,255.43 71.5,255.44 71.76,255.44 72.02,255.44 72.27,255.44 72.52,255.44 72.78,255.44 73.04,255.44 73.29,255.44 73.55,255.44 73.8,255.44" fill="none" stroke="#ec8c80" stroke-width="0.85"/>
<g fill="#0a0505"><circle cx="13.6" cy="254.95" r="1.2"/><circle cx="16.1" cy="254.95" r="1.2"/><circle cx="18.6" cy="254.95" r="1.2"/><circle cx="21.1" cy="254.95" r="1.2"/><circle cx="23.6" cy="254.95" r="1.2"/><circle cx="26.1" cy="254.79" r="1.2"/><circle cx="28.6" cy="253.13" r="1.2"/><circle cx="31.1" cy="248.84" r="1.2"/><circle cx="33.6" cy="240.15" r="1.2"/><circle cx="36.1" cy="226.66" r="1.2"/><circle cx="38.6" cy="211.39" r="1.2"/><circle cx="41.1" cy="200.6" r="1.2"/><circle cx="43.6" cy="199.88" r="1.2"/><circle cx="46.1" cy="209.43" r="1.2"/><circle cx="48.6" cy="224.2" r="1.2"/><circle cx="51.1" cy="237.93" r="1.2"/><circle cx="53.6" cy="247.23" r="1.2"/><circle cx="56.1" cy="252.12" r="1.2"/><circle cx="58.6" cy="254.21" r="1.2"/><circle cx="61.1" cy="254.95" r="1.2"/><circle cx="63.6" cy="254.95" r="1.2"/><circle cx="66.1" cy="254.95" r="1.2"/><circle cx="68.6" cy="254.95" r="1.2"/><circle cx="71.1" cy="254.95" r="1.2"/><circle cx="73.6" cy="254.95" r="1.2"/></g>
<rect x="12.6" y="194" width="61.2" height="61.45" fill="none" stroke="#7c7c7c" stroke-width="1"/>
<path d="M12.6 224.72h1.8 M73.8 224.72h-1.8 M43.2 255.45v-1.8 M43.2 194v1.8" stroke="#7c7c7c" stroke-width="0.8" fill="none"/>
<text transform="translate(11.9 264.05) scale(1 1.1)" font-size="6.4" text-anchor="middle">−0.5</text>
<text transform="translate(43.5 264.05) scale(1 1.1)" font-size="6.4" text-anchor="middle">0.0</text>
<text transform="translate(74.1 264.05) scale(1 1.1)" font-size="6.4" text-anchor="middle">0.5</text>
<text transform="translate(43.55 270.35) scale(1 1.0)" font-size="7.4" text-anchor="middle">m<tspan font-size="4.6" dx="0.3" dy="2.9">31</tspan></text>
<polyline points="91.5,255.43 91.76,255.43 92.01,255.43 92.27,255.43 92.52,255.43 92.78,255.42 93.03,255.42 93.29,255.42 93.55,255.41 93.8,255.41 94.06,255.41 94.31,255.4 94.57,255.4 94.83,255.4 95.08,255.39 95.34,255.39 95.59,255.38 95.85,255.38 96.11,255.37 96.36,255.36 96.62,255.36 96.87,255.35 97.13,255.34 97.38,255.33 97.64,255.33 97.9,255.32 98.15,255.31 98.41,255.29 98.66,255.28 98.92,255.27 99.17,255.26 99.43,255.24 99.69,255.23 99.94,255.21 100.2,255.2 100.45,255.18 100.71,255.16 100.97,255.14 101.22,255.11 101.48,255.09 101.73,255.06 101.99,255.03 102.25,255 102.5,254.97 102.76,254.93 103.01,254.89 103.27,254.84 103.52,254.79 103.78,254.74 104.04,254.67 104.29,254.61 104.55,254.53 104.8,254.45 105.06,254.36 105.31,254.26 105.57,254.14 105.83,254.02 106.08,253.88 106.34,253.72 106.59,253.54 106.85,253.35 107.11,253.14 107.36,252.9 107.62,252.63 107.87,252.34 108.13,252.01 108.39,251.66 108.64,251.27 108.9,250.83 109.15,250.36 109.41,249.84 109.66,249.28 109.92,248.67 110.18,248 110.43,247.28 110.69,246.51 110.94,245.67 111.2,244.78 111.45,243.82 111.71,242.8 111.97,241.71 112.22,240.57 112.48,239.35 112.73,238.08 112.99,236.74 113.25,235.35 113.5,233.9 113.76,232.4 114.01,230.85 114.27,229.25 114.53,227.62 114.78,225.96 115.04,224.28 115.29,222.58 115.55,220.87 115.8,219.16 116.06,217.47 116.32,215.79 116.57,214.15 116.83,212.55 117.08,210.99 117.34,209.5 117.59,208.09 117.85,206.75 118.11,205.51 118.36,204.36 118.62,203.33 118.87,202.42 119.13,201.62 119.39,200.96 119.64,200.44 119.9,200.05 120.15,199.81 120.41,199.72 120.66,199.77 120.92,199.98 121.18,200.35 121.43,200.87 121.69,201.54 121.94,202.35 122.2,203.3 122.46,204.37 122.71,205.57 122.97,206.88 123.22,208.28 123.48,209.78 123.73,211.35 123.99,212.99 124.25,214.69 124.5,216.42 124.76,218.19 125.01,219.99 125.27,221.79 125.53,223.59 125.78,225.37 126.04,227.14 126.29,228.88 126.55,230.59 126.8,232.25 127.06,233.86 127.32,235.42 127.57,236.91 127.83,238.35 128.08,239.72 128.34,241.02 128.6,242.24 128.85,243.4 129.11,244.49 129.36,245.51 129.62,246.46 129.88,247.34 130.13,248.16 130.39,248.91 130.64,249.6 130.9,250.24 131.15,250.81 131.41,251.34 131.67,251.81 131.92,252.24 132.18,252.63 132.43,252.98 132.69,253.29 132.94,253.57 133.2,253.81 133.46,254.03 133.71,254.22 133.97,254.39 134.22,254.54 134.48,254.67 134.74,254.79 134.99,254.88 135.25,254.97 135.5,255.04 135.76,255.11 136.01,255.16 136.27,255.21 136.53,255.25 136.78,255.28 137.04,255.31 137.29,255.33 137.55,255.35 137.81,255.37 138.06,255.38 138.32,255.4 138.57,255.41 138.83,255.41 139.09,255.42 139.34,255.43 139.6,255.43 139.85,255.43 140.11,255.44 140.36,255.44 140.62,255.44 140.88,255.44 141.13,255.44 141.39,255.45 141.64,255.45 141.9,255.45 142.16,255.45 142.41,255.45 142.67,255.45 142.92,255.45 143.18,255.45 143.43,255.45 143.69,255.45 143.95,255.45 144.2,255.45 144.46,255.45 144.71,255.45 144.97,255.45 145.22,255.45 145.48,255.45 145.74,255.45 145.99,255.45 146.25,255.45 146.5,255.45 146.76,255.45 147.02,255.45 147.27,255.45 147.53,255.45 147.78,255.45 148.04,255.45 148.29,255.45 148.55,255.45 148.81,255.45 149.06,255.45 149.32,255.45 149.57,255.45 149.83,255.45 150.09,255.45 150.34,255.45 150.6,255.45 150.85,255.45 151.11,255.45 151.37,255.45 151.62,255.45 151.88,255.45 152.13,255.45 152.39,255.45 152.64,255.45 152.9,255.45" fill="none" stroke="#ec8c80" stroke-width="0.85"/>
<g fill="#0a0505"><circle cx="93.23" cy="254.95" r="1.2"/><circle cx="95.44" cy="254.95" r="1.2"/><circle cx="97.65" cy="254.95" r="1.2"/><circle cx="99.86" cy="254.95" r="1.2"/><circle cx="102.07" cy="254.95" r="1.2"/><circle cx="104.28" cy="254.61" r="1.2"/><circle cx="106.49" cy="253.62" r="1.2"/><circle cx="108.7" cy="251.17" r="1.2"/><circle cx="110.91" cy="245.78" r="1.2"/><circle cx="113.12" cy="236.04" r="1.2"/><circle cx="115.33" cy="222.33" r="1.2"/><circle cx="117.54" cy="208.39" r="1.2"/><circle cx="119.75" cy="200.26" r="1.2"/><circle cx="121.96" cy="202.41" r="1.2"/><circle cx="124.17" cy="214.17" r="1.2"/><circle cx="126.38" cy="229.47" r="1.2"/><circle cx="128.59" cy="242.22" r="1.2"/><circle cx="130.8" cy="250" r="1.2"/><circle cx="133.01" cy="253.63" r="1.2"/><circle cx="135.22" cy="254.95" r="1.2"/><circle cx="137.43" cy="254.95" r="1.2"/><circle cx="139.64" cy="254.95" r="1.2"/><circle cx="141.85" cy="254.95" r="1.2"/><circle cx="144.06" cy="254.95" r="1.2"/><circle cx="146.27" cy="254.95" r="1.2"/><circle cx="148.48" cy="254.95" r="1.2"/><circle cx="150.69" cy="254.95" r="1.2"/></g>
<rect x="91.5" y="194" width="61.4" height="61.45" fill="none" stroke="#7c7c7c" stroke-width="1"/>
<path d="M91.5 224.72h1.8 M152.9 224.72h-1.8 M122.2 255.45v-1.8 M122.2 194v1.8" stroke="#7c7c7c" stroke-width="0.8" fill="none"/>
<text transform="translate(90.8 264.05) scale(1 1.1)" font-size="6.4" text-anchor="middle">−0.5</text>
<text transform="translate(122.5 264.05) scale(1 1.1)" font-size="6.4" text-anchor="middle">0.0</text>
<text transform="translate(153.2 264.05) scale(1 1.1)" font-size="6.4" text-anchor="middle">0.5</text>
<text transform="translate(122.55 270.35) scale(1 1.0)" font-size="7.4" text-anchor="middle">m<tspan font-size="4.6" dx="0.3" dy="2.9">32</tspan></text>
<polyline points="170.6,255.45 170.85,255.45 171.11,255.45 171.36,255.45 171.61,255.45 171.87,255.45 172.12,255.45 172.37,255.45 172.63,255.45 172.88,255.45 173.13,255.45 173.39,255.44 173.64,255.44 173.89,255.44 174.15,255.44 174.4,255.44 174.65,255.44 174.91,255.43 175.16,255.43 175.41,255.43 175.67,255.42 175.92,255.42 176.17,255.41 176.43,255.41 176.68,255.4 176.93,255.39 177.19,255.38 177.44,255.37 177.69,255.35 177.95,255.34 178.2,255.32 178.45,255.3 178.71,255.28 178.96,255.25 179.21,255.22 179.47,255.19 179.72,255.15 179.97,255.1 180.23,255.05 180.48,255 180.73,254.93 180.99,254.86 181.24,254.78 181.49,254.69 181.75,254.59 182,254.48 182.25,254.36 182.51,254.22 182.76,254.07 183.01,253.9 183.27,253.72 183.52,253.51 183.77,253.29 184.03,253.05 184.28,252.78 184.53,252.49 184.79,252.17 185.04,251.82 185.29,251.45 185.55,251.04 185.8,250.6 186.05,250.13 186.31,249.63 186.56,249.08 186.81,248.5 187.07,247.88 187.32,247.22 187.57,246.52 187.83,245.77 188.08,244.98 188.33,244.15 188.59,243.27 188.84,242.35 189.09,241.39 189.35,240.38 189.6,239.33 189.85,238.23 190.11,237.1 190.36,235.93 190.61,234.71 190.87,233.47 191.12,232.19 191.37,230.88 191.63,229.54 191.88,228.18 192.13,226.8 192.39,225.41 192.64,224.01 192.89,222.59 193.15,221.18 193.4,219.77 193.65,218.38 193.91,216.99 194.16,215.63 194.41,214.29 194.67,212.99 194.92,211.72 195.17,210.5 195.43,209.33 195.68,208.21 195.93,207.15 196.19,206.16 196.44,205.24 196.69,204.39 196.95,203.63 197.2,202.95 197.45,202.35 197.71,201.85 197.96,201.44 198.21,201.12 198.47,200.9 198.72,200.78 198.97,200.76 199.23,200.84 199.48,201.02 199.73,201.29 199.99,201.66 200.24,202.13 200.49,202.69 200.75,203.33 201,204.06 201.25,204.87 201.51,205.76 201.76,206.73 202.01,207.76 202.27,208.85 202.52,210 202.77,211.2 203.03,212.45 203.28,213.74 203.53,215.06 203.79,216.42 204.04,217.79 204.29,219.18 204.55,220.59 204.8,222 205.05,223.41 205.31,224.82 205.56,226.22 205.81,227.6 206.07,228.97 206.32,230.32 206.57,231.64 206.83,232.93 207.08,234.19 207.33,235.42 207.59,236.61 207.84,237.76 208.09,238.87 208.35,239.94 208.6,240.97 208.85,241.95 209.11,242.89 209.36,243.79 209.61,244.64 209.87,245.44 210.12,246.21 210.37,246.93 210.63,247.61 210.88,248.25 211.13,248.84 211.39,249.4 211.64,249.92 211.89,250.41 212.15,250.86 212.4,251.28 212.65,251.67 212.91,252.03 213.16,252.36 213.41,252.66 213.67,252.94 213.92,253.19 214.17,253.42 214.43,253.63 214.68,253.83 214.93,254 215.19,254.16 215.44,254.3 215.69,254.43 215.95,254.55 216.2,254.65 216.45,254.75 216.71,254.83 216.96,254.9 217.21,254.97 217.47,255.03 217.72,255.08 217.97,255.13 218.23,255.17 218.48,255.21 218.73,255.24 218.99,255.27 219.24,255.29 219.49,255.31 219.75,255.33 220,255.35 220.25,255.36 220.51,255.38 220.76,255.39 221.01,255.4 221.27,255.4 221.52,255.41 221.77,255.42 222.03,255.42 222.28,255.43 222.53,255.43 222.79,255.43 223.04,255.44 223.29,255.44 223.55,255.44 223.8,255.44 224.05,255.44 224.31,255.44 224.56,255.44 224.81,255.45 225.07,255.45 225.32,255.45 225.57,255.45 225.83,255.45 226.08,255.45 226.33,255.45 226.59,255.45 226.84,255.45 227.09,255.45 227.35,255.45 227.6,255.45 227.85,255.45 228.11,255.45 228.36,255.45 228.61,255.45 228.87,255.45 229.12,255.45 229.37,255.45 229.63,255.45 229.88,255.45 230.13,255.45 230.39,255.45 230.64,255.45 230.89,255.45 231.15,255.45 231.4,255.45" fill="none" stroke="#ec8c80" stroke-width="0.85"/>
<g fill="#0a0505"><circle cx="171.96" cy="254.55" r="1.2"/><circle cx="173.5" cy="254.25" r="1.2"/><circle cx="175.04" cy="253.87" r="1.2"/><circle cx="176.58" cy="253.4" r="1.2"/><circle cx="178.12" cy="252.82" r="1.2"/><circle cx="179.66" cy="252.09" r="1.2"/><circle cx="181.2" cy="251.13" r="1.2"/><circle cx="182.74" cy="249.87" r="1.2"/><circle cx="184.28" cy="248.13" r="1.2"/><circle cx="185.82" cy="245.71" r="1.2"/><circle cx="187.36" cy="242.38" r="1.2"/><circle cx="188.9" cy="237.94" r="1.2"/><circle cx="190.44" cy="232.31" r="1.2"/><circle cx="191.98" cy="225.65" r="1.2"/><circle cx="193.52" cy="218.43" r="1.2"/><circle cx="195.06" cy="211.44" r="1.2"/><circle cx="196.6" cy="205.63" r="1.2"/><circle cx="198.14" cy="201.93" r="1.2"/><circle cx="199.68" cy="201.03" r="1.2"/><circle cx="201.22" cy="204.37" r="1.2"/><circle cx="202.76" cy="211.77" r="1.2"/><circle cx="204.3" cy="221.41" r="1.2"/><circle cx="205.84" cy="231.28" r="1.2"/><circle cx="207.38" cy="239.81" r="1.2"/><circle cx="208.92" cy="246.23" r="1.2"/><circle cx="210.46" cy="250.5" r="1.2"/><circle cx="212" cy="253.03" r="1.2"/><circle cx="213.54" cy="254.37" r="1.2"/><circle cx="215.08" cy="254.95" r="1.2"/><circle cx="216.62" cy="254.95" r="1.2"/><circle cx="218.16" cy="254.95" r="1.2"/><circle cx="219.7" cy="254.95" r="1.2"/><circle cx="221.24" cy="254.95" r="1.2"/><circle cx="222.78" cy="254.95" r="1.2"/><circle cx="224.32" cy="254.95" r="1.2"/><circle cx="225.86" cy="254.95" r="1.2"/><circle cx="227.4" cy="254.95" r="1.2"/><circle cx="228.94" cy="254.95" r="1.2"/><circle cx="230.48" cy="254.95" r="1.2"/></g>
<rect x="170.6" y="194" width="60.8" height="61.45" fill="none" stroke="#7c7c7c" stroke-width="1"/>
<path d="M170.6 224.72h1.8 M231.4 224.72h-1.8 M201 255.45v-1.8 M201 194v1.8" stroke="#7c7c7c" stroke-width="0.8" fill="none"/>
<text transform="translate(169.9 264.05) scale(1 1.1)" font-size="6.4" text-anchor="middle">−0.1</text>
<text transform="translate(201.3 264.05) scale(1 1.1)" font-size="6.4" text-anchor="middle">0.3</text>
<text transform="translate(231.7 264.05) scale(1 1.1)" font-size="6.4" text-anchor="middle">0.7</text>
<text transform="translate(201.35 270.35) scale(1 1.0)" font-size="7.4" text-anchor="middle">m<tspan font-size="4.6" dx="0.3" dy="2.9">33</tspan></text>
<polyline points="249,255.45 249.26,255.45 249.51,255.45 249.77,255.45 250.03,255.45 250.28,255.45 250.54,255.45 250.79,255.45 251.05,255.45 251.31,255.45 251.56,255.45 251.82,255.45 252.07,255.45 252.33,255.45 252.59,255.45 252.84,255.45 253.1,255.45 253.36,255.45 253.61,255.45 253.87,255.45 254.12,255.45 254.38,255.45 254.64,255.45 254.89,255.45 255.15,255.45 255.41,255.45 255.66,255.45 255.92,255.45 256.18,255.45 256.43,255.45 256.69,255.44 256.94,255.44 257.2,255.44 257.46,255.44 257.71,255.44 257.97,255.43 258.23,255.43 258.48,255.43 258.74,255.42 258.99,255.42 259.25,255.41 259.51,255.4 259.76,255.39 260.02,255.37 260.27,255.36 260.53,255.34 260.79,255.32 261.04,255.29 261.3,255.26 261.56,255.23 261.81,255.19 262.07,255.14 262.32,255.08 262.58,255.02 262.84,254.94 263.09,254.85 263.35,254.75 263.61,254.64 263.86,254.51 264.12,254.36 264.38,254.19 264.63,254 264.89,253.78 265.14,253.54 265.4,253.27 265.66,252.97 265.91,252.63 266.17,252.25 266.43,251.84 266.68,251.38 266.94,250.87 267.19,250.32 267.45,249.71 267.71,249.05 267.96,248.33 268.22,247.56 268.48,246.72 268.73,245.82 268.99,244.85 269.24,243.82 269.5,242.72 269.76,241.55 270.01,240.32 270.27,239.03 270.52,237.67 270.78,236.25 271.04,234.77 271.29,233.24 271.55,231.66 271.81,230.03 272.06,228.36 272.32,226.67 272.57,224.95 272.83,223.21 273.09,221.46 273.34,219.72 273.6,217.99 273.86,216.28 274.11,214.6 274.37,212.96 274.62,211.37 274.88,209.85 275.14,208.4 275.39,207.04 275.65,205.76 275.91,204.6 276.16,203.54 276.42,202.6 276.68,201.79 276.93,201.12 277.19,200.58 277.44,200.19 277.7,199.94 277.96,199.84 278.21,199.88 278.47,200.06 278.73,200.38 278.98,200.82 279.24,201.4 279.49,202.1 279.75,202.91 280.01,203.84 280.26,204.87 280.52,206 280.77,207.22 281.03,208.51 281.29,209.88 281.54,211.31 281.8,212.79 282.06,214.32 282.31,215.87 282.57,217.45 282.82,219.05 283.08,220.65 283.34,222.24 283.59,223.83 283.85,225.4 284.11,226.94 284.36,228.45 284.62,229.92 284.88,231.36 285.13,232.75 285.39,234.08 285.64,235.37 285.9,236.6 286.16,237.78 286.41,238.9 286.67,239.96 286.93,240.96 287.18,241.91 287.44,242.8 287.69,243.63 287.95,244.41 288.21,245.14 288.46,245.82 288.72,246.45 288.98,247.04 289.23,247.58 289.49,248.09 289.74,248.55 290,248.98 290.26,249.37 290.51,249.74 290.77,250.07 291.02,250.38 291.28,250.67 291.54,250.93 291.79,251.17 292.05,251.4 292.31,251.61 292.56,251.8 292.82,251.98 293.07,252.14 293.33,252.3 293.59,252.44 293.84,252.58 294.1,252.71 294.36,252.83 294.61,252.94 294.87,253.05 295.12,253.15 295.38,253.24 295.64,253.34 295.89,253.42 296.15,253.51 296.41,253.59 296.66,253.67 296.92,253.74 297.18,253.81 297.43,253.88 297.69,253.95 297.94,254.01 298.2,254.07 298.46,254.13 298.71,254.19 298.97,254.25 299.23,254.3 299.48,254.35 299.74,254.4 299.99,254.45 300.25,254.5 300.51,254.54 300.76,254.58 301.02,254.62 301.27,254.66 301.53,254.7 301.79,254.74 302.04,254.77 302.3,254.81 302.56,254.84 302.81,254.87 303.07,254.9 303.32,254.93 303.58,254.96 303.84,254.98 304.09,255.01 304.35,255.03 304.61,255.05 304.86,255.08 305.12,255.1 305.38,255.12 305.63,255.14 305.89,255.15 306.14,255.17 306.4,255.19 306.66,255.2 306.91,255.22 307.17,255.23 307.43,255.24 307.68,255.26 307.94,255.27 308.19,255.28 308.45,255.29 308.71,255.3 308.96,255.31 309.22,255.32 309.48,255.33 309.73,255.33 309.99,255.34 310.24,255.35 310.5,255.36" fill="none" stroke="#ec8c80" stroke-width="0.85"/>
<g fill="#0a0505"><circle cx="249.2" cy="254.95" r="1.2"/><circle cx="250.42" cy="254.95" r="1.2"/><circle cx="251.64" cy="254.95" r="1.2"/><circle cx="252.86" cy="254.95" r="1.2"/><circle cx="254.08" cy="254.95" r="1.2"/><circle cx="255.3" cy="254.95" r="1.2"/><circle cx="256.52" cy="254.95" r="1.2"/><circle cx="257.74" cy="254.95" r="1.2"/><circle cx="258.96" cy="254.95" r="1.2"/><circle cx="260.18" cy="254.95" r="1.2"/><circle cx="261.4" cy="254.95" r="1.2"/><circle cx="262.62" cy="254.95" r="1.2"/><circle cx="263.84" cy="254.52" r="1.2"/><circle cx="265.06" cy="253.63" r="1.2"/><circle cx="266.28" cy="252.08" r="1.2"/><circle cx="267.5" cy="249.59" r="1.2"/><circle cx="268.72" cy="245.86" r="1.2"/><circle cx="269.94" cy="240.68" r="1.2"/><circle cx="271.16" cy="234.04" r="1.2"/><circle cx="272.38" cy="226.26" r="1.2"/><circle cx="273.6" cy="217.99" r="1.2"/><circle cx="274.82" cy="210.21" r="1.2"/><circle cx="276.04" cy="204.03" r="1.2"/><circle cx="277.26" cy="200.46" r="1.2"/><circle cx="278.48" cy="200.08" r="1.2"/><circle cx="279.7" cy="202.74" r="1.2"/><circle cx="280.92" cy="207.94" r="1.2"/><circle cx="282.14" cy="214.82" r="1.2"/><circle cx="283.36" cy="222.38" r="1.2"/><circle cx="284.58" cy="229.7" r="1.2"/><circle cx="285.8" cy="236.13" r="1.2"/><circle cx="287.02" cy="241.32" r="1.2"/><circle cx="288.24" cy="245.24" r="1.2"/><circle cx="289.46" cy="248.03" r="1.2"/><circle cx="290.68" cy="249.96" r="1.2"/><circle cx="291.9" cy="251.27" r="1.2"/><circle cx="293.12" cy="252.17" r="1.2"/><circle cx="294.34" cy="252.82" r="1.2"/><circle cx="295.56" cy="253.31" r="1.2"/><circle cx="296.78" cy="253.7" r="1.2"/><circle cx="298" cy="254.03" r="1.2"/><circle cx="299.22" cy="254.3" r="1.2"/><circle cx="300.44" cy="254.53" r="1.2"/><circle cx="301.66" cy="254.72" r="1.2"/><circle cx="302.88" cy="254.88" r="1.2"/><circle cx="304.1" cy="254.95" r="1.2"/><circle cx="305.32" cy="254.95" r="1.2"/><circle cx="306.54" cy="254.95" r="1.2"/><circle cx="307.76" cy="254.95" r="1.2"/><circle cx="308.98" cy="254.95" r="1.2"/><circle cx="310.2" cy="254.95" r="1.2"/></g>
<rect x="249" y="194" width="61.5" height="61.45" fill="none" stroke="#7c7c7c" stroke-width="1"/>
<path d="M249 224.72h1.8 M310.5 224.72h-1.8 M279.75 255.45v-1.8 M279.75 194v1.8" stroke="#7c7c7c" stroke-width="0.8" fill="none"/>
<text transform="translate(248.3 264.05) scale(1 1.1)" font-size="6.4" text-anchor="middle">−1.0</text>
<text transform="translate(279.05 264.05) scale(1 1.1)" font-size="6.4" text-anchor="middle">−0.6</text>
<text transform="translate(309.8 264.05) scale(1 1.1)" font-size="6.4" text-anchor="middle">−0.2</text>
<text transform="translate(280.1 270.35) scale(1 1.0)" font-size="7.4" text-anchor="middle">m<tspan font-size="4.6" dx="0.3" dy="2.9">34</tspan></text>
<text transform="translate(313.3 196.4) scale(1 1.17)" font-size="6.0">1.0</text>
<text transform="translate(313.3 227.12) scale(1 1.17)" font-size="6.0">0.5</text>
<text transform="translate(313.3 257.85) scale(1 1.17)" font-size="6.0">0.0</text>
<text transform="translate(328.3 224.72) rotate(-90) scale(1.1 1)" font-size="6.9" text-anchor="middle">Counts (a.u.)</text>
<polyline points="91.5,351.45 91.76,351.45 92.01,351.45 92.27,351.45 92.52,351.45 92.78,351.45 93.03,351.45 93.29,351.45 93.55,351.45 93.8,351.45 94.06,351.45 94.31,351.45 94.57,351.45 94.83,351.45 95.08,351.45 95.34,351.45 95.59,351.45 95.85,351.45 96.11,351.45 96.36,351.45 96.62,351.45 96.87,351.45 97.13,351.45 97.38,351.45 97.64,351.45 97.9,351.45 98.15,351.45 98.41,351.45 98.66,351.45 98.92,351.45 99.17,351.45 99.43,351.45 99.69,351.45 99.94,351.44 100.2,351.44 100.45,351.44 100.71,351.44 100.97,351.44 101.22,351.43 101.48,351.43 101.73,351.43 101.99,351.42 102.25,351.41 102.5,351.41 102.76,351.4 103.01,351.39 103.27,351.37 103.52,351.36 103.78,351.34 104.04,351.32 104.29,351.3 104.55,351.27 104.8,351.24 105.06,351.2 105.31,351.15 105.57,351.1 105.83,351.04 106.08,350.97 106.34,350.89 106.59,350.8 106.85,350.7 107.11,350.58 107.36,350.44 107.62,350.29 107.87,350.12 108.13,349.92 108.39,349.71 108.64,349.46 108.9,349.19 109.15,348.89 109.41,348.55 109.66,348.18 109.92,347.77 110.18,347.32 110.43,346.83 110.69,346.29 110.94,345.7 111.2,345.06 111.45,344.37 111.71,343.62 111.97,342.81 112.22,341.95 112.48,341.02 112.73,340.03 112.99,338.98 113.25,337.87 113.5,336.7 113.76,335.46 114.01,334.17 114.27,332.82 114.53,331.41 114.78,329.95 115.04,328.44 115.29,326.89 115.55,325.3 115.8,323.68 116.06,322.03 116.32,320.36 116.57,318.68 116.83,316.99 117.08,315.31 117.34,313.64 117.59,311.99 117.85,310.38 118.11,308.81 118.36,307.29 118.62,305.82 118.87,304.43 119.13,303.12 119.39,301.9 119.64,300.77 119.9,299.75 120.15,298.84 120.41,298.05 120.66,297.38 120.92,296.84 121.18,296.43 121.43,296.17 121.69,296.04 121.94,296.04 122.2,296.19 122.46,296.46 122.71,296.87 122.97,297.4 123.22,298.06 123.48,298.84 123.73,299.73 123.99,300.73 124.25,301.83 124.5,303.02 124.76,304.3 125.01,305.66 125.27,307.09 125.53,308.57 125.78,310.11 126.04,311.68 126.29,313.29 126.55,314.92 126.8,316.57 127.06,318.22 127.32,319.88 127.57,321.52 127.83,323.14 128.08,324.74 128.34,326.32 128.6,327.85 128.85,329.35 129.11,330.8 129.36,332.2 129.62,333.55 129.88,334.85 130.13,336.09 130.39,337.27 130.64,338.39 130.9,339.46 131.15,340.46 131.41,341.4 131.67,342.29 131.92,343.11 132.18,343.88 132.43,344.6 132.69,345.26 132.94,345.88 133.2,346.44 133.46,346.96 133.71,347.43 133.97,347.86 134.22,348.26 134.48,348.62 134.74,348.94 134.99,349.23 135.25,349.49 135.5,349.73 135.76,349.94 136.01,350.13 136.27,350.3 136.53,350.45 136.78,350.58 137.04,350.69 137.29,350.8 137.55,350.89 137.81,350.96 138.06,351.03 138.32,351.09 138.57,351.14 138.83,351.19 139.09,351.23 139.34,351.26 139.6,351.29 139.85,351.32 140.11,351.34 140.36,351.36 140.62,351.37 140.88,351.38 141.13,351.39 141.39,351.4 141.64,351.41 141.9,351.42 142.16,351.42 142.41,351.43 142.67,351.43 142.92,351.44 143.18,351.44 143.43,351.44 143.69,351.44 143.95,351.44 144.2,351.44 144.46,351.45 144.71,351.45 144.97,351.45 145.22,351.45 145.48,351.45 145.74,351.45 145.99,351.45 146.25,351.45 146.5,351.45 146.76,351.45 147.02,351.45 147.27,351.45 147.53,351.45 147.78,351.45 148.04,351.45 148.29,351.45 148.55,351.45 148.81,351.45 149.06,351.45 149.32,351.45 149.57,351.45 149.83,351.45 150.09,351.45 150.34,351.45 150.6,351.45 150.85,351.45 151.11,351.45 151.37,351.45 151.62,351.45 151.88,351.45 152.13,351.45 152.39,351.45 152.64,351.45 152.9,351.45" fill="none" stroke="#ec8c80" stroke-width="0.85"/>
<g fill="#0a0505"><circle cx="92.9" cy="350.95" r="1.2"/><circle cx="94.35" cy="350.95" r="1.2"/><circle cx="95.8" cy="350.95" r="1.2"/><circle cx="97.25" cy="350.95" r="1.2"/><circle cx="98.7" cy="350.95" r="1.2"/><circle cx="100.15" cy="350.95" r="1.2"/><circle cx="101.6" cy="350.95" r="1.2"/><circle cx="103.05" cy="350.95" r="1.2"/><circle cx="104.5" cy="350.95" r="1.2"/><circle cx="105.95" cy="350.95" r="1.2"/><circle cx="107.4" cy="350.42" r="1.2"/><circle cx="108.85" cy="349.24" r="1.2"/><circle cx="110.3" cy="347.09" r="1.2"/><circle cx="111.75" cy="343.5" r="1.2"/><circle cx="113.2" cy="338.08" r="1.2"/><circle cx="114.65" cy="330.7" r="1.2"/><circle cx="116.1" cy="321.77" r="1.2"/><circle cx="117.55" cy="312.28" r="1.2"/><circle cx="119" cy="303.78" r="1.2"/><circle cx="120.45" cy="297.93" r="1.2"/><circle cx="121.9" cy="296.03" r="1.2"/><circle cx="123.35" cy="298.43" r="1.2"/><circle cx="124.8" cy="304.52" r="1.2"/><circle cx="126.25" cy="313.02" r="1.2"/><circle cx="127.7" cy="322.33" r="1.2"/><circle cx="129.15" cy="331.04" r="1.2"/><circle cx="130.6" cy="338.21" r="1.2"/><circle cx="132.05" cy="343.51" r="1.2"/><circle cx="133.5" cy="347.04" r="1.2"/><circle cx="134.95" cy="349.19" r="1.2"/><circle cx="136.4" cy="350.37" r="1.2"/><circle cx="137.85" cy="350.95" r="1.2"/><circle cx="139.3" cy="350.95" r="1.2"/><circle cx="140.75" cy="350.95" r="1.2"/><circle cx="142.2" cy="350.95" r="1.2"/><circle cx="143.65" cy="350.95" r="1.2"/><circle cx="145.1" cy="350.95" r="1.2"/><circle cx="146.55" cy="350.95" r="1.2"/><circle cx="148" cy="350.95" r="1.2"/><circle cx="149.45" cy="350.95" r="1.2"/><circle cx="150.9" cy="350.95" r="1.2"/><circle cx="152.35" cy="350.95" r="1.2"/></g>
<rect x="91.5" y="290" width="61.4" height="61.45" fill="none" stroke="#7c7c7c" stroke-width="1"/>
<path d="M91.5 320.73h1.8 M152.9 320.73h-1.8 M122.2 351.45v-1.8 M122.2 290v1.8" stroke="#7c7c7c" stroke-width="0.8" fill="none"/>
<text transform="translate(90.8 360.05) scale(1 1.1)" font-size="6.4" text-anchor="middle">−1.1</text>
<text transform="translate(121.5 360.05) scale(1 1.1)" font-size="6.4" text-anchor="middle">−0.9</text>
<text transform="translate(152.2 360.05) scale(1 1.1)" font-size="6.4" text-anchor="middle">−0.7</text>
<text transform="translate(122.55 366.35) scale(1 1.0)" font-size="7.4" text-anchor="middle">m<tspan font-size="4.6" dx="0.3" dy="2.9">12</tspan></text>
<polyline points="170.6,351.45 170.85,351.45 171.11,351.45 171.36,351.45 171.61,351.45 171.87,351.45 172.12,351.45 172.37,351.45 172.63,351.45 172.88,351.45 173.13,351.45 173.39,351.45 173.64,351.45 173.89,351.45 174.15,351.45 174.4,351.45 174.65,351.45 174.91,351.45 175.16,351.45 175.41,351.44 175.67,351.44 175.92,351.44 176.17,351.44 176.43,351.44 176.68,351.44 176.93,351.43 177.19,351.43 177.44,351.43 177.69,351.42 177.95,351.42 178.2,351.41 178.45,351.41 178.71,351.4 178.96,351.39 179.21,351.38 179.47,351.37 179.72,351.35 179.97,351.34 180.23,351.32 180.48,351.3 180.73,351.27 180.99,351.24 181.24,351.21 181.49,351.18 181.75,351.14 182,351.09 182.25,351.04 182.51,350.98 182.76,350.91 183.01,350.84 183.27,350.76 183.52,350.66 183.77,350.56 184.03,350.44 184.28,350.32 184.53,350.17 184.79,350.02 185.04,349.84 185.29,349.65 185.55,349.44 185.8,349.2 186.05,348.95 186.31,348.67 186.56,348.37 186.81,348.03 187.07,347.67 187.32,347.28 187.57,346.86 187.83,346.41 188.08,345.92 188.33,345.39 188.59,344.83 188.84,344.22 189.09,343.58 189.35,342.89 189.6,342.16 189.85,341.39 190.11,340.58 190.36,339.71 190.61,338.81 190.87,337.86 191.12,336.86 191.37,335.83 191.63,334.74 191.88,333.62 192.13,332.45 192.39,331.25 192.64,330.01 192.89,328.74 193.15,327.43 193.4,326.1 193.65,324.74 193.91,323.36 194.16,321.96 194.41,320.55 194.67,319.14 194.92,317.72 195.17,316.3 195.43,314.89 195.68,313.5 195.93,312.12 196.19,310.77 196.44,309.45 196.69,308.17 196.95,306.93 197.2,305.74 197.45,304.6 197.71,303.53 197.96,302.52 198.21,301.58 198.47,300.71 198.72,299.93 198.97,299.23 199.23,298.62 199.48,298.1 199.73,297.67 199.99,297.34 200.24,297.11 200.49,296.98 200.75,296.95 201,297.01 201.25,297.18 201.51,297.45 201.76,297.82 202.01,298.28 202.27,298.83 202.52,299.48 202.77,300.21 203.03,301.02 203.28,301.91 203.53,302.88 203.79,303.92 204.04,305.01 204.29,306.17 204.55,307.38 204.8,308.64 205.05,309.93 205.31,311.26 205.56,312.63 205.81,314.01 206.07,315.41 206.32,316.82 206.57,318.24 206.83,319.66 207.08,321.07 207.33,322.48 207.59,323.87 207.84,325.24 208.09,326.59 208.35,327.92 208.6,329.21 208.85,330.47 209.11,331.7 209.36,332.89 209.61,334.04 209.87,335.15 210.12,336.21 210.37,337.24 210.63,338.21 210.88,339.15 211.13,340.04 211.39,340.88 211.64,341.68 211.89,342.44 212.15,343.15 212.4,343.82 212.65,344.45 212.91,345.04 213.16,345.59 213.41,346.1 213.67,346.58 213.92,347.02 214.17,347.43 214.43,347.81 214.68,348.16 214.93,348.48 215.19,348.78 215.44,349.05 215.69,349.29 215.95,349.52 216.2,349.72 216.45,349.91 216.71,350.08 216.96,350.23 217.21,350.37 217.47,350.49 217.72,350.6 217.97,350.7 218.23,350.79 218.48,350.87 218.73,350.94 218.99,351 219.24,351.06 219.49,351.11 219.75,351.15 220,351.19 220.25,351.23 220.51,351.26 220.76,351.28 221.01,351.3 221.27,351.32 221.52,351.34 221.77,351.36 222.03,351.37 222.28,351.38 222.53,351.39 222.79,351.4 223.04,351.41 223.29,351.41 223.55,351.42 223.8,351.42 224.05,351.43 224.31,351.43 224.56,351.43 224.81,351.44 225.07,351.44 225.32,351.44 225.57,351.44 225.83,351.44 226.08,351.44 226.33,351.45 226.59,351.45 226.84,351.45 227.09,351.45 227.35,351.45 227.6,351.45 227.85,351.45 228.11,351.45 228.36,351.45 228.61,351.45 228.87,351.45 229.12,351.45 229.37,351.45 229.63,351.45 229.88,351.45 230.13,351.45 230.39,351.45 230.64,351.45 230.89,351.45 231.15,351.45 231.4,351.45" fill="none" stroke="#ec8c80" stroke-width="0.85"/>
<g fill="#0a0505"><circle cx="171.4" cy="350.95" r="1.2"/><circle cx="172.24" cy="350.95" r="1.2"/><circle cx="173.08" cy="350.95" r="1.2"/><circle cx="173.92" cy="350.95" r="1.2"/><circle cx="174.76" cy="350.95" r="1.2"/><circle cx="175.6" cy="350.95" r="1.2"/><circle cx="176.44" cy="350.95" r="1.2"/><circle cx="177.28" cy="350.95" r="1.2"/><circle cx="178.12" cy="350.95" r="1.2"/><circle cx="178.96" cy="350.95" r="1.2"/><circle cx="179.8" cy="350.95" r="1.2"/><circle cx="180.64" cy="350.95" r="1.2"/><circle cx="181.48" cy="350.95" r="1.2"/><circle cx="182.32" cy="350.95" r="1.2"/><circle cx="183.16" cy="350.79" r="1.2"/><circle cx="184" cy="350.46" r="1.2"/><circle cx="184.84" cy="349.98" r="1.2"/><circle cx="185.68" cy="349.32" r="1.2"/><circle cx="186.52" cy="348.42" r="1.2"/><circle cx="187.36" cy="347.22" r="1.2"/><circle cx="188.2" cy="345.67" r="1.2"/><circle cx="189.04" cy="343.72" r="1.2"/><circle cx="189.88" cy="341.31" r="1.2"/><circle cx="190.72" cy="338.41" r="1.2"/><circle cx="191.56" cy="335.03" r="1.2"/><circle cx="192.4" cy="331.19" r="1.2"/><circle cx="193.24" cy="326.94" r="1.2"/><circle cx="194.08" cy="322.41" r="1.2"/><circle cx="194.92" cy="317.72" r="1.2"/><circle cx="195.76" cy="313.06" r="1.2"/><circle cx="196.6" cy="308.64" r="1.2"/><circle cx="197.44" cy="304.66" r="1.2"/><circle cx="198.28" cy="301.34" r="1.2"/><circle cx="199.12" cy="298.86" r="1.2"/><circle cx="199.96" cy="297.37" r="1.2"/><circle cx="200.8" cy="296.95" r="1.2"/><circle cx="201.64" cy="297.63" r="1.2"/><circle cx="202.48" cy="299.37" r="1.2"/><circle cx="203.32" cy="302.06" r="1.2"/><circle cx="204.16" cy="305.55" r="1.2"/><circle cx="205" cy="309.66" r="1.2"/><circle cx="205.84" cy="314.16" r="1.2"/><circle cx="206.68" cy="318.84" r="1.2"/><circle cx="207.52" cy="323.51" r="1.2"/><circle cx="208.36" cy="327.98" r="1.2"/><circle cx="209.2" cy="332.14" r="1.2"/><circle cx="210.04" cy="335.88" r="1.2"/><circle cx="210.88" cy="339.15" r="1.2"/><circle cx="211.72" cy="341.92" r="1.2"/><circle cx="212.56" cy="344.22" r="1.2"/><circle cx="213.4" cy="346.08" r="1.2"/><circle cx="214.24" cy="347.53" r="1.2"/><circle cx="215.08" cy="348.65" r="1.2"/><circle cx="215.92" cy="349.49" r="1.2"/><circle cx="216.76" cy="350.11" r="1.2"/><circle cx="217.6" cy="350.55" r="1.2"/><circle cx="218.44" cy="350.86" r="1.2"/><circle cx="219.28" cy="350.95" r="1.2"/><circle cx="220.12" cy="350.95" r="1.2"/><circle cx="220.96" cy="350.95" r="1.2"/><circle cx="221.8" cy="350.95" r="1.2"/><circle cx="222.64" cy="350.95" r="1.2"/><circle cx="223.48" cy="350.95" r="1.2"/><circle cx="224.32" cy="350.95" r="1.2"/><circle cx="225.16" cy="350.95" r="1.2"/><circle cx="226" cy="350.95" r="1.2"/><circle cx="226.84" cy="350.95" r="1.2"/><circle cx="227.68" cy="350.95" r="1.2"/><circle cx="228.52" cy="350.95" r="1.2"/><circle cx="229.36" cy="350.95" r="1.2"/><circle cx="230.2" cy="350.95" r="1.2"/><circle cx="231.04" cy="350.95" r="1.2"/></g>
<rect x="170.6" y="290" width="60.8" height="61.45" fill="none" stroke="#7c7c7c" stroke-width="1"/>
<path d="M170.6 320.73h1.8 M231.4 320.73h-1.8 M201 351.45v-1.8 M201 290v1.8" stroke="#7c7c7c" stroke-width="0.8" fill="none"/>
<text transform="translate(169.9 360.05) scale(1 1.1)" font-size="6.4" text-anchor="middle">−0.1</text>
<text transform="translate(201.3 360.05) scale(1 1.1)" font-size="6.4" text-anchor="middle">0.0</text>
<text transform="translate(231.7 360.05) scale(1 1.1)" font-size="6.4" text-anchor="middle">0.1</text>
<text transform="translate(201.35 366.35) scale(1 1.0)" font-size="7.4" text-anchor="middle">m<tspan font-size="4.6" dx="0.3" dy="2.9">13</tspan></text>
<polyline points="249,351.45 249.26,351.45 249.51,351.45 249.77,351.45 250.03,351.45 250.28,351.45 250.54,351.45 250.79,351.45 251.05,351.45 251.31,351.45 251.56,351.45 251.82,351.45 252.07,351.45 252.33,351.45 252.59,351.45 252.84,351.45 253.1,351.45 253.36,351.45 253.61,351.45 253.87,351.45 254.12,351.45 254.38,351.45 254.64,351.45 254.89,351.45 255.15,351.45 255.41,351.45 255.66,351.45 255.92,351.45 256.18,351.45 256.43,351.45 256.69,351.45 256.94,351.44 257.2,351.44 257.46,351.44 257.71,351.44 257.97,351.44 258.23,351.43 258.48,351.43 258.74,351.43 258.99,351.42 259.25,351.42 259.51,351.41 259.76,351.4 260.02,351.39 260.27,351.38 260.53,351.36 260.79,351.35 261.04,351.33 261.3,351.3 261.56,351.28 261.81,351.25 262.07,351.21 262.32,351.17 262.58,351.12 262.84,351.06 263.09,351 263.35,350.92 263.61,350.84 263.86,350.74 264.12,350.63 264.38,350.51 264.63,350.37 264.89,350.21 265.14,350.03 265.4,349.83 265.66,349.61 265.91,349.36 266.17,349.08 266.43,348.77 266.68,348.43 266.94,348.05 267.19,347.64 267.45,347.18 267.71,346.69 267.96,346.14 268.22,345.55 268.48,344.92 268.73,344.23 268.99,343.48 269.24,342.68 269.5,341.83 269.76,340.91 270.01,339.94 270.27,338.91 270.52,337.82 270.78,336.67 271.04,335.46 271.29,334.2 271.55,332.88 271.81,331.5 272.06,330.08 272.32,328.61 272.57,327.1 272.83,325.56 273.09,323.98 273.34,322.38 273.6,320.76 273.86,319.12 274.11,317.48 274.37,315.85 274.62,314.23 274.88,312.63 275.14,311.05 275.39,309.52 275.65,308.03 275.91,306.6 276.16,305.23 276.42,303.94 276.68,302.73 276.93,301.61 277.19,300.59 277.44,299.68 277.7,298.87 277.96,298.18 278.21,297.62 278.47,297.18 278.73,296.86 278.98,296.69 279.24,296.64 279.49,296.72 279.75,296.94 280.01,297.29 280.26,297.77 280.52,298.37 280.77,299.09 281.03,299.93 281.29,300.88 281.54,301.93 281.8,303.08 282.06,304.31 282.31,305.63 282.57,307.01 282.82,308.46 283.08,309.96 283.34,311.51 283.59,313.09 283.85,314.7 284.11,316.33 284.36,317.96 284.62,319.6 284.88,321.23 285.13,322.85 285.39,324.45 285.64,326.01 285.9,327.55 286.16,329.05 286.41,330.5 286.67,331.91 286.93,333.27 287.18,334.57 287.44,335.82 287.69,337.01 287.95,338.14 288.21,339.22 288.46,340.23 288.72,341.19 288.98,342.08 289.23,342.92 289.49,343.71 289.74,344.43 290,345.11 290.26,345.73 290.51,346.31 290.77,346.84 291.02,347.32 291.28,347.76 291.54,348.17 291.79,348.53 292.05,348.86 292.31,349.16 292.56,349.43 292.82,349.67 293.07,349.89 293.33,350.08 293.59,350.26 293.84,350.41 294.1,350.55 294.36,350.67 294.61,350.77 294.87,350.86 295.12,350.95 295.38,351.02 295.64,351.08 295.89,351.13 296.15,351.18 296.41,351.22 296.66,351.25 296.92,351.28 297.18,351.31 297.43,351.33 297.69,351.35 297.94,351.37 298.2,351.38 298.46,351.39 298.71,351.4 298.97,351.41 299.23,351.42 299.48,351.42 299.74,351.43 299.99,351.43 300.25,351.43 300.51,351.44 300.76,351.44 301.02,351.44 301.27,351.44 301.53,351.44 301.79,351.45 302.04,351.45 302.3,351.45 302.56,351.45 302.81,351.45 303.07,351.45 303.32,351.45 303.58,351.45 303.84,351.45 304.09,351.45 304.35,351.45 304.61,351.45 304.86,351.45 305.12,351.45 305.38,351.45 305.63,351.45 305.89,351.45 306.14,351.45 306.4,351.45 306.66,351.45 306.91,351.45 307.17,351.45 307.43,351.45 307.68,351.45 307.94,351.45 308.19,351.45 308.45,351.45 308.71,351.45 308.96,351.45 309.22,351.45 309.48,351.45 309.73,351.45 309.99,351.45 310.24,351.45 310.5,351.45" fill="none" stroke="#ec8c80" stroke-width="0.85"/>
<g fill="#0a0505"><circle cx="249.3" cy="350.95" r="1.2"/><circle cx="250.65" cy="350.95" r="1.2"/><circle cx="252" cy="350.95" r="1.2"/><circle cx="253.35" cy="350.95" r="1.2"/><circle cx="254.7" cy="350.95" r="1.2"/><circle cx="256.05" cy="350.95" r="1.2"/><circle cx="257.4" cy="350.95" r="1.2"/><circle cx="258.75" cy="350.95" r="1.2"/><circle cx="260.1" cy="350.95" r="1.2"/><circle cx="261.45" cy="350.95" r="1.2"/><circle cx="262.8" cy="350.95" r="1.2"/><circle cx="264.15" cy="350.62" r="1.2"/><circle cx="265.5" cy="349.75" r="1.2"/><circle cx="266.85" cy="348.18" r="1.2"/><circle cx="268.2" cy="345.6" r="1.2"/><circle cx="269.55" cy="341.65" r="1.2"/><circle cx="270.9" cy="336.12" r="1.2"/><circle cx="272.25" cy="329.01" r="1.2"/><circle cx="273.6" cy="320.76" r="1.2"/><circle cx="274.95" cy="312.2" r="1.2"/><circle cx="276.3" cy="304.53" r="1.2"/><circle cx="277.65" cy="299.02" r="1.2"/><circle cx="279" cy="296.68" r="1.2"/><circle cx="280.35" cy="297.96" r="1.2"/><circle cx="281.7" cy="302.62" r="1.2"/><circle cx="283.05" cy="309.78" r="1.2"/><circle cx="284.4" cy="318.2" r="1.2"/><circle cx="285.75" cy="326.66" r="1.2"/><circle cx="287.1" cy="334.16" r="1.2"/><circle cx="288.45" cy="340.18" r="1.2"/><circle cx="289.8" cy="344.59" r="1.2"/><circle cx="291.15" cy="347.54" r="1.2"/><circle cx="292.5" cy="349.37" r="1.2"/><circle cx="293.85" cy="350.41" r="1.2"/><circle cx="295.2" cy="350.95" r="1.2"/><circle cx="296.55" cy="350.95" r="1.2"/><circle cx="297.9" cy="350.95" r="1.2"/><circle cx="299.25" cy="350.95" r="1.2"/><circle cx="300.6" cy="350.95" r="1.2"/><circle cx="301.95" cy="350.95" r="1.2"/><circle cx="303.3" cy="350.95" r="1.2"/><circle cx="304.65" cy="350.95" r="1.2"/><circle cx="306" cy="350.95" r="1.2"/><circle cx="307.35" cy="350.95" r="1.2"/><circle cx="308.7" cy="350.95" r="1.2"/><circle cx="310.05" cy="350.95" r="1.2"/></g>
<rect x="249" y="290" width="61.5" height="61.45" fill="none" stroke="#7c7c7c" stroke-width="1"/>
<path d="M249 320.73h1.8 M310.5 320.73h-1.8 M279.75 351.45v-1.8 M279.75 290v1.8" stroke="#7c7c7c" stroke-width="0.8" fill="none"/>
<text transform="translate(248.3 360.05) scale(1 1.1)" font-size="6.4" text-anchor="middle">−0.1</text>
<text transform="translate(280.05 360.05) scale(1 1.1)" font-size="6.4" text-anchor="middle">0.0</text>
<text transform="translate(310.8 360.05) scale(1 1.1)" font-size="6.4" text-anchor="middle">0.1</text>
<text transform="translate(280.1 366.35) scale(1 1.0)" font-size="7.4" text-anchor="middle">m<tspan font-size="4.6" dx="0.3" dy="2.9">14</tspan></text>
<text transform="translate(313.3 292.4) scale(1 1.17)" font-size="6.0">1.0</text>
<text transform="translate(313.3 323.12) scale(1 1.17)" font-size="6.0">0.5</text>
<text transform="translate(313.3 353.85) scale(1 1.17)" font-size="6.0">0.0</text>
<text transform="translate(328.3 320.73) rotate(-90) scale(1.1 1)" font-size="6.9" text-anchor="middle">Counts (a.u.)</text>
<polyline points="12.6,439.24 12.86,439.23 13.11,439.23 13.37,439.23 13.62,439.23 13.88,439.22 14.13,439.22 14.38,439.21 14.64,439.21 14.89,439.2 15.15,439.2 15.4,439.19 15.66,439.18 15.91,439.17 16.17,439.16 16.43,439.15 16.68,439.14 16.93,439.12 17.19,439.11 17.45,439.09 17.7,439.07 17.95,439.04 18.21,439.02 18.46,438.99 18.72,438.96 18.98,438.93 19.23,438.89 19.48,438.85 19.74,438.8 20,438.75 20.25,438.69 20.5,438.63 20.76,438.57 21.02,438.49 21.27,438.41 21.52,438.32 21.78,438.23 22.04,438.12 22.29,438.01 22.55,437.89 22.8,437.75 23.05,437.61 23.31,437.45 23.56,437.28 23.82,437.09 24.07,436.9 24.33,436.68 24.59,436.45 24.84,436.21 25.09,435.95 25.35,435.66 25.61,435.36 25.86,435.04 26.12,434.7 26.37,434.34 26.62,433.95 26.88,433.54 27.13,433.1 27.39,432.64 27.64,432.16 27.9,431.65 28.16,431.11 28.41,430.54 28.66,429.94 28.92,429.32 29.17,428.67 29.43,427.98 29.69,427.27 29.94,426.53 30.2,425.76 30.45,424.95 30.7,424.12 30.96,423.26 31.22,422.37 31.47,421.46 31.73,420.51 31.98,419.54 32.23,418.55 32.49,417.53 32.74,416.48 33,415.42 33.25,414.34 33.51,413.23 33.77,412.12 34.02,410.98 34.27,409.84 34.53,408.69 34.79,407.53 35.04,406.36 35.3,405.2 35.55,404.03 35.8,402.87 36.06,401.72 36.31,400.57 36.57,399.44 36.83,398.33 37.08,397.23 37.34,396.16 37.59,395.11 37.84,394.09 38.1,393.1 38.36,392.15 38.61,391.24 38.87,390.37 39.12,389.54 39.38,388.76 39.63,388.03 39.89,387.35 40.14,386.72 40.4,386.15 40.65,385.64 40.91,385.19 41.16,384.8 41.41,384.48 41.67,384.22 41.92,384.02 42.18,383.89 42.44,383.83 42.69,383.83 42.95,383.89 43.2,384.01 43.46,384.19 43.71,384.43 43.97,384.73 44.22,385.08 44.48,385.49 44.73,385.95 44.99,386.46 45.24,387.02 45.5,387.64 45.75,388.29 46.01,389 46.26,389.74 46.52,390.53 46.77,391.35 47.02,392.21 47.28,393.1 47.53,394.02 47.79,394.97 48.05,395.94 48.3,396.93 48.56,397.94 48.81,398.97 49.07,400.01 49.32,401.06 49.58,402.12 49.83,403.18 50.09,404.25 50.34,405.32 50.6,406.38 50.85,407.44 51.11,408.5 51.36,409.55 51.62,410.58 51.87,411.61 52.12,412.62 52.38,413.62 52.63,414.59 52.89,415.56 53.15,416.5 53.4,417.42 53.66,418.32 53.91,419.2 54.17,420.05 54.42,420.88 54.68,421.69 54.93,422.47 55.19,423.23 55.44,423.96 55.7,424.67 55.95,425.35 56.21,426 56.46,426.64 56.72,427.24 56.97,427.83 57.23,428.39 57.48,428.92 57.73,429.43 57.99,429.92 58.25,430.39 58.5,430.84 58.76,431.26 59.01,431.67 59.27,432.05 59.52,432.42 59.77,432.77 60.03,433.1 60.28,433.42 60.54,433.71 60.8,434 61.05,434.26 61.31,434.52 61.56,434.76 61.82,434.98 62.07,435.2 62.33,435.4 62.58,435.6 62.84,435.78 63.09,435.95 63.35,436.11 63.6,436.27 63.86,436.41 64.11,436.55 64.36,436.68 64.62,436.8 64.88,436.92 65.13,437.03 65.39,437.14 65.64,437.24 65.89,437.33 66.15,437.42 66.41,437.5 66.66,437.58 66.92,437.66 67.17,437.73 67.42,437.8 67.68,437.87 67.94,437.93 68.19,437.99 68.45,438.05 68.7,438.1 68.95,438.15 69.21,438.2 69.47,438.25 69.72,438.29 69.97,438.34 70.23,438.38 70.48,438.42 70.74,438.46 71,438.49 71.25,438.53 71.5,438.56 71.76,438.59 72.02,438.62 72.27,438.65 72.52,438.68 72.78,438.7 73.04,438.73 73.29,438.75 73.55,438.78 73.8,438.8" fill="none" stroke="#ec8c80" stroke-width="0.85"/>
<g fill="#0a0505"><circle cx="13.65" cy="438.75" r="1.2"/><circle cx="15.5" cy="438.75" r="1.2"/><circle cx="17.35" cy="438.75" r="1.2"/><circle cx="19.2" cy="438.75" r="1.2"/><circle cx="21.05" cy="438.48" r="1.2"/><circle cx="22.9" cy="437.7" r="1.2"/><circle cx="24.75" cy="436.3" r="1.2"/><circle cx="26.6" cy="433.99" r="1.2"/><circle cx="28.45" cy="430.45" r="1.2"/><circle cx="30.3" cy="425.43" r="1.2"/><circle cx="32.15" cy="418.88" r="1.2"/><circle cx="34" cy="411.07" r="1.2"/><circle cx="35.85" cy="402.67" r="1.2"/><circle cx="37.7" cy="394.67" r="1.2"/><circle cx="39.55" cy="388.25" r="1.2"/><circle cx="41.4" cy="384.5" r="1.2"/><circle cx="43.25" cy="384.05" r="1.2"/><circle cx="45.1" cy="386.71" r="1.2"/><circle cx="46.95" cy="391.95" r="1.2"/><circle cx="48.8" cy="398.93" r="1.2"/><circle cx="50.65" cy="406.61" r="1.2"/><circle cx="52.5" cy="414.08" r="1.2"/><circle cx="54.35" cy="420.65" r="1.2"/><circle cx="56.2" cy="425.99" r="1.2"/><circle cx="58.05" cy="430.04" r="1.2"/><circle cx="59.9" cy="432.93" r="1.2"/><circle cx="61.75" cy="434.93" r="1.2"/><circle cx="63.6" cy="436.27" r="1.2"/><circle cx="65.45" cy="437.16" r="1.2"/><circle cx="67.3" cy="437.77" r="1.2"/><circle cx="69.15" cy="438.19" r="1.2"/><circle cx="71" cy="438.49" r="1.2"/><circle cx="72.85" cy="438.71" r="1.2"/></g>
<rect x="12.6" y="377.8" width="61.2" height="61.45" fill="none" stroke="#7c7c7c" stroke-width="1"/>
<path d="M12.6 408.53h1.8 M73.8 408.53h-1.8 M43.2 439.25v-1.8 M43.2 377.8v1.8" stroke="#7c7c7c" stroke-width="0.8" fill="none"/>
<text transform="translate(11.9 447.85) scale(1 1.1)" font-size="6.4" text-anchor="middle">−1.1</text>
<text transform="translate(42.5 447.85) scale(1 1.1)" font-size="6.4" text-anchor="middle">−0.9</text>
<text transform="translate(73.1 447.85) scale(1 1.1)" font-size="6.4" text-anchor="middle">−0.7</text>
<text transform="translate(43.55 454.15) scale(1 1.0)" font-size="7.4" text-anchor="middle">m<tspan font-size="4.6" dx="0.3" dy="2.9">21</tspan></text>
<polyline points="91.5,439.21 91.76,439.2 92.01,439.2 92.27,439.19 92.52,439.19 92.78,439.18 93.03,439.18 93.29,439.17 93.55,439.17 93.8,439.16 94.06,439.15 94.31,439.14 94.57,439.14 94.83,439.13 95.08,439.12 95.34,439.11 95.59,439.1 95.85,439.08 96.11,439.07 96.36,439.06 96.62,439.04 96.87,439.03 97.13,439.01 97.38,439 97.64,438.98 97.9,438.96 98.15,438.94 98.41,438.92 98.66,438.89 98.92,438.87 99.17,438.84 99.43,438.81 99.69,438.78 99.94,438.75 100.2,438.72 100.45,438.68 100.71,438.64 100.97,438.6 101.22,438.56 101.48,438.51 101.73,438.46 101.99,438.41 102.25,438.36 102.5,438.29 102.76,438.23 103.01,438.16 103.27,438.08 103.52,438 103.78,437.91 104.04,437.82 104.29,437.71 104.55,437.6 104.8,437.48 105.06,437.35 105.31,437.21 105.57,437.05 105.83,436.89 106.08,436.7 106.34,436.51 106.59,436.29 106.85,436.06 107.11,435.8 107.36,435.53 107.62,435.23 107.87,434.91 108.13,434.56 108.39,434.18 108.64,433.77 108.9,433.33 109.15,432.86 109.41,432.35 109.66,431.8 109.92,431.21 110.18,430.58 110.43,429.91 110.69,429.19 110.94,428.43 111.2,427.62 111.45,426.77 111.71,425.87 111.97,424.91 112.22,423.91 112.48,422.87 112.73,421.77 112.99,420.62 113.25,419.43 113.5,418.2 113.76,416.93 114.01,415.61 114.27,414.26 114.53,412.88 114.78,411.47 115.04,410.03 115.29,408.58 115.55,407.11 115.8,405.63 116.06,404.16 116.32,402.68 116.57,401.22 116.83,399.77 117.08,398.35 117.34,396.96 117.59,395.61 117.85,394.31 118.11,393.05 118.36,391.86 118.62,390.74 118.87,389.69 119.13,388.73 119.39,387.84 119.64,387.05 119.9,386.36 120.15,385.77 120.41,385.28 120.66,384.9 120.92,384.64 121.18,384.48 121.43,384.44 121.69,384.51 121.94,384.69 122.2,384.99 122.46,385.4 122.71,385.91 122.97,386.53 123.22,387.25 123.48,388.06 123.73,388.96 123.99,389.95 124.25,391.02 124.5,392.16 124.76,393.37 125.01,394.63 125.27,395.95 125.53,397.31 125.78,398.71 126.04,400.14 126.29,401.59 126.55,403.06 126.8,404.53 127.06,406.01 127.32,407.49 127.57,408.95 127.83,410.4 128.08,411.83 128.34,413.23 128.6,414.61 128.85,415.95 129.11,417.25 129.36,418.52 129.62,419.74 129.88,420.92 130.13,422.05 130.39,423.14 130.64,424.17 130.9,425.16 131.15,426.1 131.41,426.99 131.67,427.83 131.92,428.63 132.18,429.38 132.43,430.08 132.69,430.74 132.94,431.36 133.2,431.94 133.46,432.48 133.71,432.98 133.97,433.45 134.22,433.88 134.48,434.28 134.74,434.65 134.99,434.99 135.25,435.31 135.5,435.6 135.76,435.87 136.01,436.12 136.27,436.35 136.53,436.56 136.78,436.75 137.04,436.93 137.29,437.09 137.55,437.25 137.81,437.38 138.06,437.51 138.32,437.63 138.57,437.74 138.83,437.84 139.09,437.94 139.34,438.02 139.6,438.1 139.85,438.18 140.11,438.25 140.36,438.31 140.62,438.37 140.88,438.43 141.13,438.48 141.39,438.53 141.64,438.57 141.9,438.61 142.16,438.65 142.41,438.69 142.67,438.73 142.92,438.76 143.18,438.79 143.43,438.82 143.69,438.85 143.95,438.87 144.2,438.9 144.46,438.92 144.71,438.94 144.97,438.96 145.22,438.98 145.48,439 145.74,439.02 145.99,439.03 146.25,439.05 146.5,439.06 146.76,439.07 147.02,439.09 147.27,439.1 147.53,439.11 147.78,439.12 148.04,439.13 148.29,439.14 148.55,439.15 148.81,439.15 149.06,439.16 149.32,439.17 149.57,439.17 149.83,439.18 150.09,439.19 150.34,439.19 150.6,439.2 150.85,439.2 151.11,439.2 151.37,439.21 151.62,439.21 151.88,439.21 152.13,439.22 152.39,439.22 152.64,439.22 152.9,439.22" fill="none" stroke="#ec8c80" stroke-width="0.85"/>
<g fill="#0a0505"><circle cx="91.9" cy="438.75" r="1.2"/><circle cx="92.72" cy="438.75" r="1.2"/><circle cx="93.54" cy="438.75" r="1.2"/><circle cx="94.36" cy="438.75" r="1.2"/><circle cx="95.18" cy="438.75" r="1.2"/><circle cx="96" cy="438.75" r="1.2"/><circle cx="96.82" cy="438.75" r="1.2"/><circle cx="97.64" cy="438.75" r="1.2"/><circle cx="98.46" cy="438.75" r="1.2"/><circle cx="99.28" cy="438.75" r="1.2"/><circle cx="100.1" cy="438.73" r="1.2"/><circle cx="100.92" cy="438.61" r="1.2"/><circle cx="101.74" cy="438.46" r="1.2"/><circle cx="102.56" cy="438.28" r="1.2"/><circle cx="103.38" cy="438.05" r="1.2"/><circle cx="104.2" cy="437.75" r="1.2"/><circle cx="105.02" cy="437.37" r="1.2"/><circle cx="105.84" cy="436.88" r="1.2"/><circle cx="106.66" cy="436.23" r="1.2"/><circle cx="107.48" cy="435.39" r="1.2"/><circle cx="108.3" cy="434.31" r="1.2"/><circle cx="109.12" cy="432.92" r="1.2"/><circle cx="109.94" cy="431.16" r="1.2"/><circle cx="110.76" cy="428.98" r="1.2"/><circle cx="111.58" cy="426.33" r="1.2"/><circle cx="112.4" cy="423.19" r="1.2"/><circle cx="113.22" cy="419.56" r="1.2"/><circle cx="114.04" cy="415.47" r="1.2"/><circle cx="114.86" cy="411.03" r="1.2"/><circle cx="115.68" cy="406.35" r="1.2"/><circle cx="116.5" cy="401.63" r="1.2"/><circle cx="117.32" cy="397.06" r="1.2"/><circle cx="118.14" cy="392.9" r="1.2"/><circle cx="118.96" cy="389.36" r="1.2"/><circle cx="119.78" cy="386.67" r="1.2"/><circle cx="120.6" cy="384.99" r="1.2"/><circle cx="121.42" cy="384.44" r="1.2"/><circle cx="122.24" cy="385.05" r="1.2"/><circle cx="123.06" cy="386.78" r="1.2"/><circle cx="123.88" cy="389.51" r="1.2"/><circle cx="124.7" cy="393.09" r="1.2"/><circle cx="125.52" cy="397.28" r="1.2"/><circle cx="126.34" cy="401.85" r="1.2"/><circle cx="127.16" cy="406.58" r="1.2"/><circle cx="127.98" cy="411.25" r="1.2"/><circle cx="128.8" cy="415.68" r="1.2"/><circle cx="129.62" cy="419.75" r="1.2"/><circle cx="130.44" cy="423.36" r="1.2"/><circle cx="131.26" cy="426.47" r="1.2"/><circle cx="132.08" cy="429.1" r="1.2"/><circle cx="132.9" cy="431.26" r="1.2"/><circle cx="133.72" cy="432.99" r="1.2"/><circle cx="134.54" cy="434.37" r="1.2"/><circle cx="135.36" cy="435.44" r="1.2"/><circle cx="136.18" cy="436.27" r="1.2"/><circle cx="137" cy="436.9" r="1.2"/><circle cx="137.82" cy="437.39" r="1.2"/><circle cx="138.64" cy="437.77" r="1.2"/><circle cx="139.46" cy="438.06" r="1.2"/><circle cx="140.28" cy="438.29" r="1.2"/><circle cx="141.1" cy="438.47" r="1.2"/><circle cx="141.92" cy="438.62" r="1.2"/><circle cx="142.74" cy="438.74" r="1.2"/><circle cx="143.56" cy="438.75" r="1.2"/><circle cx="144.38" cy="438.75" r="1.2"/><circle cx="145.2" cy="438.75" r="1.2"/><circle cx="146.02" cy="438.75" r="1.2"/><circle cx="146.84" cy="438.75" r="1.2"/><circle cx="147.66" cy="438.75" r="1.2"/><circle cx="148.48" cy="438.75" r="1.2"/><circle cx="149.3" cy="438.75" r="1.2"/><circle cx="150.12" cy="438.75" r="1.2"/><circle cx="150.94" cy="438.75" r="1.2"/><circle cx="151.76" cy="438.75" r="1.2"/><circle cx="152.58" cy="438.75" r="1.2"/></g>
<rect x="91.5" y="377.8" width="61.4" height="61.45" fill="none" stroke="#7c7c7c" stroke-width="1"/>
<path d="M91.5 408.53h1.8 M152.9 408.53h-1.8 M122.2 439.25v-1.8 M122.2 377.8v1.8" stroke="#7c7c7c" stroke-width="0.8" fill="none"/>
<text transform="translate(91.8 447.85) scale(1 1.1)" font-size="6.4" text-anchor="middle">0.8</text>
<text transform="translate(122.5 447.85) scale(1 1.1)" font-size="6.4" text-anchor="middle">1.0</text>
<text transform="translate(153.2 447.85) scale(1 1.1)" font-size="6.4" text-anchor="middle">1.2</text>
<text transform="translate(122.55 454.15) scale(1 1.0)" font-size="7.4" text-anchor="middle">m<tspan font-size="4.6" dx="0.3" dy="2.9">22</tspan></text>
<polyline points="170.6,439.04 170.85,439.03 171.11,439.02 171.36,439.01 171.61,439 171.87,438.98 172.12,438.97 172.37,438.96 172.63,438.94 172.88,438.93 173.13,438.91 173.39,438.89 173.64,438.88 173.89,438.86 174.15,438.84 174.4,438.82 174.65,438.79 174.91,438.77 175.16,438.74 175.41,438.72 175.67,438.69 175.92,438.66 176.17,438.63 176.43,438.59 176.68,438.55 176.93,438.51 177.19,438.47 177.44,438.43 177.69,438.38 177.95,438.33 178.2,438.27 178.45,438.21 178.71,438.14 178.96,438.07 179.21,438 179.47,437.92 179.72,437.83 179.97,437.74 180.23,437.64 180.48,437.53 180.73,437.41 180.99,437.29 181.24,437.15 181.49,437.01 181.75,436.85 182,436.69 182.25,436.51 182.51,436.32 182.76,436.11 183.01,435.89 183.27,435.66 183.52,435.41 183.77,435.14 184.03,434.85 184.28,434.55 184.53,434.23 184.79,433.89 185.04,433.52 185.29,433.14 185.55,432.73 185.8,432.29 186.05,431.84 186.31,431.36 186.56,430.85 186.81,430.31 187.07,429.75 187.32,429.16 187.57,428.55 187.83,427.9 188.08,427.22 188.33,426.52 188.59,425.79 188.84,425.02 189.09,424.23 189.35,423.41 189.6,422.56 189.85,421.69 190.11,420.78 190.36,419.85 190.61,418.89 190.87,417.91 191.12,416.9 191.37,415.87 191.63,414.82 191.88,413.75 192.13,412.66 192.39,411.56 192.64,410.44 192.89,409.31 193.15,408.18 193.4,407.03 193.65,405.89 193.91,404.74 194.16,403.59 194.41,402.45 194.67,401.32 194.92,400.2 195.17,399.09 195.43,398 195.68,396.93 195.93,395.88 196.19,394.86 196.44,393.88 196.69,392.92 196.95,392.01 197.2,391.13 197.45,390.29 197.71,389.51 197.96,388.77 198.21,388.08 198.47,387.44 198.72,386.86 198.97,386.34 199.23,385.88 199.48,385.48 199.73,385.14 199.99,384.87 200.24,384.66 200.49,384.52 200.75,384.45 201,384.44 201.25,384.5 201.51,384.63 201.76,384.82 202.01,385.08 202.27,385.4 202.52,385.79 202.77,386.24 203.03,386.75 203.28,387.31 203.53,387.94 203.79,388.62 204.04,389.35 204.29,390.12 204.55,390.95 204.8,391.82 205.05,392.73 205.31,393.67 205.56,394.65 205.81,395.67 206.07,396.71 206.32,397.77 206.57,398.86 206.83,399.96 207.08,401.08 207.33,402.21 207.59,403.35 207.84,404.5 208.09,405.64 208.35,406.79 208.6,407.94 208.85,409.07 209.11,410.2 209.36,411.32 209.61,412.43 209.87,413.52 210.12,414.59 210.37,415.65 210.63,416.68 210.88,417.7 211.13,418.68 211.39,419.65 211.64,420.59 211.89,421.5 212.15,422.38 212.4,423.24 212.65,424.06 212.91,424.86 213.16,425.63 213.41,426.37 213.67,427.08 213.92,427.76 214.17,428.41 214.43,429.04 214.68,429.63 214.93,430.2 215.19,430.74 215.44,431.25 215.69,431.74 215.95,432.2 216.2,432.64 216.45,433.05 216.71,433.44 216.96,433.81 217.21,434.16 217.47,434.49 217.72,434.79 217.97,435.08 218.23,435.35 218.48,435.61 218.73,435.84 218.99,436.07 219.24,436.27 219.49,436.47 219.75,436.65 220,436.82 220.25,436.98 220.51,437.12 220.76,437.26 221.01,437.39 221.27,437.5 221.52,437.61 221.77,437.72 222.03,437.81 222.28,437.9 222.53,437.98 222.79,438.06 223.04,438.13 223.29,438.2 223.55,438.26 223.8,438.31 224.05,438.37 224.31,438.42 224.56,438.46 224.81,438.51 225.07,438.55 225.32,438.58 225.57,438.62 225.83,438.65 226.08,438.68 226.33,438.71 226.59,438.74 226.84,438.76 227.09,438.79 227.35,438.81 227.6,438.83 227.85,438.85 228.11,438.87 228.36,438.89 228.61,438.91 228.87,438.92 229.12,438.94 229.37,438.95 229.63,438.97 229.88,438.98 230.13,438.99 230.39,439.01 230.64,439.02 230.89,439.03 231.15,439.04 231.4,439.05" fill="none" stroke="#ec8c80" stroke-width="0.85"/>
<g fill="#0a0505"><circle cx="172.25" cy="438.75" r="1.2"/><circle cx="174.2" cy="438.75" r="1.2"/><circle cx="176.15" cy="438.63" r="1.2"/><circle cx="178.1" cy="438.29" r="1.2"/><circle cx="180.05" cy="437.71" r="1.2"/><circle cx="182" cy="436.69" r="1.2"/><circle cx="183.95" cy="434.94" r="1.2"/><circle cx="185.9" cy="432.12" r="1.2"/><circle cx="187.85" cy="427.84" r="1.2"/><circle cx="189.8" cy="421.87" r="1.2"/><circle cx="191.75" cy="414.3" r="1.2"/><circle cx="193.7" cy="405.67" r="1.2"/><circle cx="195.65" cy="397.05" r="1.2"/><circle cx="197.6" cy="389.83" r="1.2"/><circle cx="199.55" cy="385.38" r="1.2"/><circle cx="201.5" cy="384.62" r="1.2"/><circle cx="203.45" cy="387.73" r="1.2"/><circle cx="205.4" cy="394.03" r="1.2"/><circle cx="207.35" cy="402.29" r="1.2"/><circle cx="209.3" cy="411.06" r="1.2"/><circle cx="211.25" cy="419.13" r="1.2"/><circle cx="213.2" cy="425.75" r="1.2"/><circle cx="215.15" cy="430.66" r="1.2"/><circle cx="217.1" cy="434.01" r="1.2"/><circle cx="219.05" cy="436.12" r="1.2"/><circle cx="221" cy="437.38" r="1.2"/><circle cx="222.95" cy="438.1" r="1.2"/><circle cx="224.9" cy="438.52" r="1.2"/><circle cx="226.85" cy="438.75" r="1.2"/><circle cx="228.8" cy="438.75" r="1.2"/><circle cx="230.75" cy="438.75" r="1.2"/></g>
<rect x="170.6" y="377.8" width="60.8" height="61.45" fill="none" stroke="#7c7c7c" stroke-width="1"/>
<path d="M170.6 408.53h1.8 M231.4 408.53h-1.8 M201 439.25v-1.8 M201 377.8v1.8" stroke="#7c7c7c" stroke-width="0.8" fill="none"/>
<text transform="translate(169.9 447.85) scale(1 1.1)" font-size="6.4" text-anchor="middle">−0.1</text>
<text transform="translate(201.3 447.85) scale(1 1.1)" font-size="6.4" text-anchor="middle">0.0</text>
<text transform="translate(231.7 447.85) scale(1 1.1)" font-size="6.4" text-anchor="middle">0.1</text>
<text transform="translate(201.35 454.15) scale(1 1.0)" font-size="7.4" text-anchor="middle">m<tspan font-size="4.6" dx="0.3" dy="2.9">23</tspan></text>
<polyline points="249,439.25 249.26,439.25 249.51,439.25 249.77,439.25 250.03,439.25 250.28,439.25 250.54,439.25 250.79,439.25 251.05,439.25 251.31,439.25 251.56,439.25 251.82,439.25 252.07,439.25 252.33,439.25 252.59,439.25 252.84,439.25 253.1,439.25 253.36,439.25 253.61,439.25 253.87,439.25 254.12,439.25 254.38,439.25 254.64,439.25 254.89,439.25 255.15,439.25 255.41,439.24 255.66,439.24 255.92,439.24 256.18,439.24 256.43,439.24 256.69,439.24 256.94,439.23 257.2,439.23 257.46,439.23 257.71,439.22 257.97,439.21 258.23,439.21 258.48,439.2 258.74,439.19 258.99,439.18 259.25,439.17 259.51,439.15 259.76,439.13 260.02,439.11 260.27,439.09 260.53,439.06 260.79,439.03 261.04,438.99 261.3,438.95 261.56,438.9 261.81,438.85 262.07,438.78 262.32,438.71 262.58,438.63 262.84,438.54 263.09,438.43 263.35,438.32 263.61,438.19 263.86,438.04 264.12,437.87 264.38,437.69 264.63,437.49 264.89,437.26 265.14,437.01 265.4,436.73 265.66,436.42 265.91,436.09 266.17,435.72 266.43,435.32 266.68,434.88 266.94,434.4 267.19,433.88 267.45,433.32 267.71,432.72 267.96,432.07 268.22,431.37 268.48,430.62 268.73,429.82 268.99,428.97 269.24,428.07 269.5,427.11 269.76,426.1 270.01,425.04 270.27,423.93 270.52,422.76 270.78,421.55 271.04,420.28 271.29,418.97 271.55,417.62 271.81,416.22 272.06,414.79 272.32,413.33 272.57,411.84 272.83,410.32 273.09,408.79 273.34,407.25 273.6,405.7 273.86,404.15 274.11,402.62 274.37,401.09 274.62,399.59 274.88,398.12 275.14,396.69 275.39,395.3 275.65,393.97 275.91,392.7 276.16,391.49 276.42,390.36 276.68,389.32 276.93,388.36 277.19,387.49 277.44,386.72 277.7,386.06 277.96,385.51 278.21,385.07 278.47,384.74 278.73,384.53 278.98,384.44 279.24,384.47 279.49,384.61 279.75,384.88 280.01,385.26 280.26,385.75 280.52,386.36 280.77,387.07 281.03,387.88 281.29,388.79 281.54,389.79 281.8,390.88 282.06,392.04 282.31,393.28 282.57,394.58 282.82,395.94 283.08,397.35 283.34,398.8 283.59,400.28 283.85,401.8 284.11,403.33 284.36,404.87 284.62,406.42 284.88,407.97 285.13,409.5 285.39,411.03 285.64,412.53 285.9,414.01 286.16,415.46 286.41,416.87 286.67,418.25 286.93,419.58 287.18,420.87 287.44,422.12 287.69,423.31 287.95,424.45 288.21,425.54 288.46,426.58 288.72,427.56 288.98,428.49 289.23,429.37 289.49,430.2 289.74,430.97 290,431.7 290.26,432.37 290.51,433 290.77,433.59 291.02,434.13 291.28,434.63 291.54,435.09 291.79,435.51 292.05,435.89 292.31,436.25 292.56,436.57 292.82,436.86 293.07,437.13 293.33,437.37 293.59,437.58 293.84,437.78 294.1,437.95 294.36,438.11 294.61,438.25 294.87,438.37 295.12,438.48 295.38,438.58 295.64,438.67 295.89,438.75 296.15,438.81 296.41,438.87 296.66,438.92 296.92,438.97 297.18,439.01 297.43,439.04 297.69,439.07 297.94,439.1 298.2,439.12 298.46,439.14 298.71,439.16 298.97,439.17 299.23,439.18 299.48,439.19 299.74,439.2 299.99,439.21 300.25,439.22 300.51,439.22 300.76,439.23 301.02,439.23 301.27,439.23 301.53,439.24 301.79,439.24 302.04,439.24 302.3,439.24 302.56,439.24 302.81,439.25 303.07,439.25 303.32,439.25 303.58,439.25 303.84,439.25 304.09,439.25 304.35,439.25 304.61,439.25 304.86,439.25 305.12,439.25 305.38,439.25 305.63,439.25 305.89,439.25 306.14,439.25 306.4,439.25 306.66,439.25 306.91,439.25 307.17,439.25 307.43,439.25 307.68,439.25 307.94,439.25 308.19,439.25 308.45,439.25 308.71,439.25 308.96,439.25 309.22,439.25 309.48,439.25 309.73,439.25 309.99,439.25 310.24,439.25 310.5,439.25" fill="none" stroke="#ec8c80" stroke-width="0.85"/>
<g fill="#0a0505"><circle cx="249.31" cy="438.75" r="1.2"/><circle cx="250.62" cy="438.75" r="1.2"/><circle cx="251.93" cy="438.75" r="1.2"/><circle cx="253.24" cy="438.75" r="1.2"/><circle cx="254.55" cy="438.75" r="1.2"/><circle cx="255.86" cy="438.75" r="1.2"/><circle cx="257.17" cy="438.75" r="1.2"/><circle cx="258.48" cy="438.75" r="1.2"/><circle cx="259.79" cy="438.75" r="1.2"/><circle cx="261.1" cy="438.75" r="1.2"/><circle cx="262.41" cy="438.69" r="1.2"/><circle cx="263.72" cy="438.12" r="1.2"/><circle cx="265.03" cy="437.12" r="1.2"/><circle cx="266.34" cy="435.45" r="1.2"/><circle cx="267.65" cy="432.85" r="1.2"/><circle cx="268.96" cy="429.06" r="1.2"/><circle cx="270.27" cy="423.92" r="1.2"/><circle cx="271.58" cy="417.46" r="1.2"/><circle cx="272.89" cy="409.97" r="1.2"/><circle cx="274.2" cy="402.09" r="1.2"/><circle cx="275.51" cy="394.69" r="1.2"/><circle cx="276.82" cy="388.76" r="1.2"/><circle cx="278.13" cy="385.2" r="1.2"/><circle cx="279.44" cy="384.57" r="1.2"/><circle cx="280.75" cy="386.99" r="1.2"/><circle cx="282.06" cy="392.06" r="1.2"/><circle cx="283.37" cy="398.99" r="1.2"/><circle cx="284.68" cy="406.79" r="1.2"/><circle cx="285.99" cy="414.52" r="1.2"/><circle cx="287.3" cy="421.45" r="1.2"/><circle cx="288.61" cy="427.15" r="1.2"/><circle cx="289.92" cy="431.47" r="1.2"/><circle cx="291.23" cy="434.53" r="1.2"/><circle cx="292.54" cy="436.54" r="1.2"/><circle cx="293.85" cy="437.78" r="1.2"/><circle cx="295.16" cy="438.5" r="1.2"/><circle cx="296.47" cy="438.75" r="1.2"/><circle cx="297.78" cy="438.75" r="1.2"/><circle cx="299.09" cy="438.75" r="1.2"/><circle cx="300.4" cy="438.75" r="1.2"/><circle cx="301.71" cy="438.75" r="1.2"/><circle cx="303.02" cy="438.75" r="1.2"/><circle cx="304.33" cy="438.75" r="1.2"/><circle cx="305.64" cy="438.75" r="1.2"/><circle cx="306.95" cy="438.75" r="1.2"/><circle cx="308.26" cy="438.75" r="1.2"/><circle cx="309.57" cy="438.75" r="1.2"/></g>
<rect x="249" y="377.8" width="61.5" height="61.45" fill="none" stroke="#7c7c7c" stroke-width="1"/>
<path d="M249 408.53h1.8 M310.5 408.53h-1.8 M279.75 439.25v-1.8 M279.75 377.8v1.8" stroke="#7c7c7c" stroke-width="0.8" fill="none"/>
<text transform="translate(248.3 447.85) scale(1 1.1)" font-size="6.4" text-anchor="middle">−0.1</text>
<text transform="translate(280.05 447.85) scale(1 1.1)" font-size="6.4" text-anchor="middle">0.0</text>
<text transform="translate(310.8 447.85) scale(1 1.1)" font-size="6.4" text-anchor="middle">0.1</text>
<text transform="translate(280.1 454.15) scale(1 1.0)" font-size="7.4" text-anchor="middle">m<tspan font-size="4.6" dx="0.3" dy="2.9">24</tspan></text>
<text transform="translate(313.3 380.2) scale(1 1.17)" font-size="6.0">1.0</text>
<text transform="translate(313.3 410.93) scale(1 1.17)" font-size="6.0">0.5</text>
<text transform="translate(313.3 441.65) scale(1 1.17)" font-size="6.0">0.0</text>
<text transform="translate(328.3 408.53) rotate(-90) scale(1.1 1)" font-size="6.9" text-anchor="middle">Counts (a.u.)</text>
<polyline points="12.6,527.05 12.86,527.05 13.11,527.05 13.37,527.04 13.62,527.04 13.88,527.04 14.13,527.04 14.38,527.04 14.64,527.04 14.89,527.04 15.15,527.03 15.4,527.03 15.66,527.03 15.91,527.03 16.17,527.02 16.43,527.02 16.68,527.01 16.93,527.01 17.19,527 17.45,527 17.7,526.99 17.95,526.98 18.21,526.97 18.46,526.96 18.72,526.95 18.98,526.93 19.23,526.91 19.48,526.9 19.74,526.88 20,526.85 20.25,526.83 20.5,526.8 20.76,526.77 21.02,526.73 21.27,526.69 21.52,526.65 21.78,526.6 22.04,526.55 22.29,526.49 22.55,526.43 22.8,526.35 23.05,526.28 23.31,526.19 23.56,526.09 23.82,525.99 24.07,525.88 24.33,525.75 24.59,525.62 24.84,525.47 25.09,525.31 25.35,525.14 25.61,524.95 25.86,524.75 26.12,524.53 26.37,524.29 26.62,524.03 26.88,523.76 27.13,523.47 27.39,523.15 27.64,522.81 27.9,522.45 28.16,522.06 28.41,521.65 28.66,521.22 28.92,520.75 29.17,520.26 29.43,519.74 29.69,519.19 29.94,518.61 30.2,518 30.45,517.35 30.7,516.68 30.96,515.97 31.22,515.23 31.47,514.46 31.73,513.66 31.98,512.82 32.23,511.95 32.49,511.05 32.74,510.12 33,509.15 33.25,508.16 33.51,507.14 33.77,506.09 34.02,505.02 34.27,503.92 34.53,502.8 34.79,501.66 35.04,500.5 35.3,499.32 35.55,498.13 35.8,496.93 36.06,495.72 36.31,494.5 36.57,493.28 36.83,492.07 37.08,490.85 37.34,489.65 37.59,488.46 37.84,487.28 38.1,486.12 38.36,484.98 38.61,483.86 38.87,482.78 39.12,481.73 39.38,480.72 39.63,479.74 39.89,478.81 40.14,477.93 40.4,477.09 40.65,476.31 40.91,475.59 41.16,474.92 41.41,474.32 41.67,473.78 41.92,473.31 42.18,472.9 42.44,472.56 42.69,472.3 42.95,472.1 43.2,471.98 43.46,471.93 43.71,471.95 43.97,472.05 44.22,472.22 44.48,472.46 44.73,472.77 44.99,473.16 45.24,473.61 45.5,474.12 45.75,474.7 46.01,475.35 46.26,476.05 46.52,476.81 46.77,477.63 47.02,478.49 47.28,479.41 47.53,480.37 47.79,481.37 48.05,482.41 48.3,483.48 48.56,484.58 48.81,485.71 49.07,486.86 49.32,488.04 49.58,489.23 49.83,490.43 50.09,491.64 50.34,492.85 50.6,494.07 50.85,495.29 51.11,496.5 51.36,497.71 51.62,498.9 51.87,500.08 52.12,501.25 52.38,502.4 52.63,503.53 52.89,504.63 53.15,505.72 53.4,506.77 53.66,507.81 53.91,508.81 54.17,509.78 54.42,510.72 54.68,511.64 54.93,512.52 55.19,513.37 55.44,514.18 55.7,514.96 55.95,515.72 56.21,516.43 56.46,517.12 56.72,517.77 56.97,518.4 57.23,518.99 57.48,519.55 57.73,520.08 57.99,520.58 58.25,521.05 58.5,521.5 58.76,521.92 59.01,522.32 59.27,522.69 59.52,523.03 59.77,523.36 60.03,523.66 60.28,523.94 60.54,524.2 60.8,524.45 61.05,524.67 61.31,524.88 61.56,525.07 61.82,525.25 62.07,525.42 62.33,525.57 62.58,525.71 62.84,525.83 63.09,525.95 63.35,526.06 63.6,526.16 63.86,526.25 64.11,526.33 64.36,526.4 64.62,526.47 64.88,526.53 65.13,526.58 65.39,526.63 65.64,526.68 65.89,526.72 66.15,526.76 66.41,526.79 66.66,526.82 66.92,526.85 67.17,526.87 67.42,526.89 67.68,526.91 67.94,526.93 68.19,526.94 68.45,526.95 68.7,526.97 68.95,526.98 69.21,526.99 69.47,526.99 69.72,527 69.97,527.01 70.23,527.01 70.48,527.02 70.74,527.02 71,527.03 71.25,527.03 71.5,527.03 71.76,527.03 72.02,527.04 72.27,527.04 72.52,527.04 72.78,527.04 73.04,527.04 73.29,527.04 73.55,527.04 73.8,527.05" fill="none" stroke="#ec8c80" stroke-width="0.85"/>
<g fill="#0a0505"><circle cx="12.64" cy="526.55" r="1.2"/><circle cx="14.2" cy="526.55" r="1.2"/><circle cx="15.76" cy="526.55" r="1.2"/><circle cx="17.32" cy="526.55" r="1.2"/><circle cx="18.88" cy="526.55" r="1.2"/><circle cx="20.44" cy="526.55" r="1.2"/><circle cx="22" cy="526.55" r="1.2"/><circle cx="23.56" cy="526.1" r="1.2"/><circle cx="25.12" cy="525.3" r="1.2"/><circle cx="26.68" cy="523.98" r="1.2"/><circle cx="28.24" cy="521.93" r="1.2"/><circle cx="29.8" cy="518.93" r="1.2"/><circle cx="31.36" cy="514.8" r="1.2"/><circle cx="32.92" cy="509.46" r="1.2"/><circle cx="34.48" cy="503.02" r="1.2"/><circle cx="36.04" cy="495.81" r="1.2"/><circle cx="37.6" cy="488.41" r="1.2"/><circle cx="39.16" cy="481.57" r="1.2"/><circle cx="40.72" cy="476.11" r="1.2"/><circle cx="42.28" cy="472.76" r="1.2"/><circle cx="43.84" cy="471.99" r="1.2"/><circle cx="45.4" cy="473.92" r="1.2"/><circle cx="46.96" cy="478.27" r="1.2"/><circle cx="48.52" cy="484.43" r="1.2"/><circle cx="50.08" cy="491.61" r="1.2"/><circle cx="51.64" cy="499.02" r="1.2"/><circle cx="53.2" cy="505.95" r="1.2"/><circle cx="54.76" cy="511.93" r="1.2"/><circle cx="56.32" cy="516.75" r="1.2"/><circle cx="57.88" cy="520.37" r="1.2"/><circle cx="59.44" cy="522.93" r="1.2"/><circle cx="61" cy="524.63" r="1.2"/><circle cx="62.56" cy="525.7" r="1.2"/><circle cx="64.12" cy="526.33" r="1.2"/><circle cx="65.68" cy="526.55" r="1.2"/><circle cx="67.24" cy="526.55" r="1.2"/><circle cx="68.8" cy="526.55" r="1.2"/><circle cx="70.36" cy="526.55" r="1.2"/><circle cx="71.92" cy="526.55" r="1.2"/><circle cx="73.48" cy="526.55" r="1.2"/></g>
<rect x="12.6" y="465.6" width="61.2" height="61.45" fill="none" stroke="#7c7c7c" stroke-width="1"/>
<path d="M12.6 496.33h1.8 M73.8 496.33h-1.8 M43.2 527.05v-1.8 M43.2 465.6v1.8" stroke="#7c7c7c" stroke-width="0.8" fill="none"/>
<text transform="translate(11.9 535.65) scale(1 1.1)" font-size="6.4" text-anchor="middle">−0.3</text>
<text transform="translate(43.5 535.65) scale(1 1.1)" font-size="6.4" text-anchor="middle">0.0</text>
<text transform="translate(74.1 535.65) scale(1 1.1)" font-size="6.4" text-anchor="middle">0.3</text>
<text transform="translate(43.55 541.95) scale(1 1.0)" font-size="7.4" text-anchor="middle">m<tspan font-size="4.6" dx="0.3" dy="2.9">31</tspan></text>
<polyline points="91.5,526.84 91.76,526.82 92.01,526.81 92.27,526.8 92.52,526.79 92.78,526.77 93.03,526.76 93.29,526.74 93.55,526.73 93.8,526.71 94.06,526.69 94.31,526.67 94.57,526.65 94.83,526.63 95.08,526.61 95.34,526.59 95.59,526.57 95.85,526.54 96.11,526.52 96.36,526.49 96.62,526.46 96.87,526.44 97.13,526.4 97.38,526.37 97.64,526.34 97.9,526.3 98.15,526.26 98.41,526.22 98.66,526.18 98.92,526.13 99.17,526.08 99.43,526.03 99.69,525.97 99.94,525.91 100.2,525.85 100.45,525.78 100.71,525.71 100.97,525.63 101.22,525.54 101.48,525.45 101.73,525.35 101.99,525.25 102.25,525.13 102.5,525.01 102.76,524.87 103.01,524.73 103.27,524.58 103.52,524.41 103.78,524.23 104.04,524.03 104.29,523.82 104.55,523.6 104.8,523.36 105.06,523.09 105.31,522.81 105.57,522.51 105.83,522.19 106.08,521.84 106.34,521.47 106.59,521.07 106.85,520.65 107.11,520.2 107.36,519.72 107.62,519.21 107.87,518.66 108.13,518.09 108.39,517.48 108.64,516.84 108.9,516.16 109.15,515.44 109.41,514.69 109.66,513.9 109.92,513.08 110.18,512.22 110.43,511.32 110.69,510.38 110.94,509.41 111.2,508.4 111.45,507.36 111.71,506.28 111.97,505.17 112.22,504.03 112.48,502.87 112.73,501.67 112.99,500.46 113.25,499.22 113.5,497.96 113.76,496.69 114.01,495.41 114.27,494.12 114.53,492.82 114.78,491.53 115.04,490.24 115.29,488.95 115.55,487.69 115.8,486.43 116.06,485.21 116.32,484 116.57,482.84 116.83,481.7 117.08,480.61 117.34,479.56 117.59,478.57 117.85,477.63 118.11,476.75 118.36,475.93 118.62,475.17 118.87,474.49 119.13,473.88 119.39,473.35 119.64,472.9 119.9,472.52 120.15,472.23 120.41,472.03 120.66,471.9 120.92,471.87 121.18,471.92 121.43,472.05 121.69,472.27 121.94,472.58 122.2,472.96 122.46,473.43 122.71,473.98 122.97,474.6 123.22,475.29 123.48,476.06 123.73,476.89 123.99,477.78 124.25,478.73 124.5,479.73 124.76,480.79 125.01,481.88 125.27,483.02 125.53,484.2 125.78,485.4 126.04,486.64 126.29,487.89 126.55,489.16 126.8,490.45 127.06,491.74 127.32,493.03 127.57,494.33 127.83,495.62 128.08,496.9 128.34,498.17 128.6,499.42 128.85,500.65 129.11,501.87 129.36,503.06 129.62,504.22 129.88,505.35 130.13,506.46 130.39,507.53 130.64,508.57 130.9,509.57 131.15,510.53 131.41,511.47 131.67,512.36 131.92,513.21 132.18,514.03 132.43,514.82 132.69,515.56 132.94,516.27 133.2,516.94 133.46,517.58 133.71,518.18 133.97,518.75 134.22,519.29 134.48,519.8 134.74,520.27 134.99,520.72 135.25,521.14 135.5,521.53 135.76,521.9 136.01,522.24 136.27,522.56 136.53,522.86 136.78,523.14 137.04,523.4 137.29,523.64 137.55,523.86 137.81,524.07 138.06,524.26 138.32,524.44 138.57,524.6 138.83,524.75 139.09,524.9 139.34,525.03 139.6,525.15 139.85,525.26 140.11,525.37 140.36,525.47 140.62,525.56 140.88,525.64 141.13,525.72 141.39,525.79 141.64,525.86 141.9,525.92 142.16,525.98 142.41,526.04 142.67,526.09 142.92,526.14 143.18,526.18 143.43,526.23 143.69,526.27 143.95,526.31 144.2,526.34 144.46,526.38 144.71,526.41 144.97,526.44 145.22,526.47 145.48,526.5 145.74,526.52 145.99,526.55 146.25,526.57 146.5,526.6 146.76,526.62 147.02,526.64 147.27,526.66 147.53,526.68 147.78,526.69 148.04,526.71 148.29,526.73 148.55,526.74 148.81,526.76 149.06,526.77 149.32,526.79 149.57,526.8 149.83,526.81 150.09,526.83 150.34,526.84 150.6,526.85 150.85,526.86 151.11,526.87 151.37,526.88 151.62,526.89 151.88,526.9 152.13,526.9 152.39,526.91 152.64,526.92 152.9,526.93" fill="none" stroke="#ec8c80" stroke-width="0.85"/>
<g fill="#0a0505"><circle cx="91.58" cy="526.55" r="1.2"/><circle cx="92.47" cy="526.55" r="1.2"/><circle cx="93.36" cy="526.55" r="1.2"/><circle cx="94.25" cy="526.55" r="1.2"/><circle cx="95.14" cy="526.55" r="1.2"/><circle cx="96.03" cy="526.53" r="1.2"/><circle cx="96.92" cy="526.43" r="1.2"/><circle cx="97.81" cy="526.31" r="1.2"/><circle cx="98.7" cy="526.17" r="1.2"/><circle cx="99.59" cy="525.99" r="1.2"/><circle cx="100.48" cy="525.77" r="1.2"/><circle cx="101.37" cy="525.49" r="1.2"/><circle cx="102.26" cy="525.12" r="1.2"/><circle cx="103.15" cy="524.65" r="1.2"/><circle cx="104.04" cy="524.03" r="1.2"/><circle cx="104.93" cy="523.23" r="1.2"/><circle cx="105.82" cy="522.2" r="1.2"/><circle cx="106.71" cy="520.89" r="1.2"/><circle cx="107.6" cy="519.24" r="1.2"/><circle cx="108.49" cy="517.22" r="1.2"/><circle cx="109.38" cy="514.78" r="1.2"/><circle cx="110.27" cy="511.89" r="1.2"/><circle cx="111.16" cy="508.56" r="1.2"/><circle cx="112.05" cy="504.8" r="1.2"/><circle cx="112.94" cy="500.69" r="1.2"/><circle cx="113.83" cy="496.33" r="1.2"/><circle cx="114.72" cy="491.83" r="1.2"/><circle cx="115.61" cy="487.38" r="1.2"/><circle cx="116.5" cy="483.16" r="1.2"/><circle cx="117.39" cy="479.36" r="1.2"/><circle cx="118.28" cy="476.18" r="1.2"/><circle cx="119.17" cy="473.8" r="1.2"/><circle cx="120.06" cy="472.33" r="1.2"/><circle cx="120.95" cy="471.87" r="1.2"/><circle cx="121.84" cy="472.44" r="1.2"/><circle cx="122.73" cy="474.02" r="1.2"/><circle cx="123.62" cy="476.5" r="1.2"/><circle cx="124.51" cy="479.76" r="1.2"/><circle cx="125.4" cy="483.62" r="1.2"/><circle cx="126.29" cy="487.87" r="1.2"/><circle cx="127.18" cy="492.34" r="1.2"/><circle cx="128.07" cy="496.83" r="1.2"/><circle cx="128.96" cy="501.17" r="1.2"/><circle cx="129.85" cy="505.24" r="1.2"/><circle cx="130.74" cy="508.95" r="1.2"/><circle cx="131.63" cy="512.24" r="1.2"/><circle cx="132.52" cy="515.07" r="1.2"/><circle cx="133.41" cy="517.47" r="1.2"/><circle cx="134.3" cy="519.45" r="1.2"/><circle cx="135.19" cy="521.05" r="1.2"/><circle cx="136.08" cy="522.33" r="1.2"/><circle cx="136.97" cy="523.33" r="1.2"/><circle cx="137.86" cy="524.11" r="1.2"/><circle cx="138.75" cy="524.71" r="1.2"/><circle cx="139.64" cy="525.17" r="1.2"/><circle cx="140.53" cy="525.52" r="1.2"/><circle cx="141.42" cy="525.8" r="1.2"/><circle cx="142.31" cy="526.02" r="1.2"/><circle cx="143.2" cy="526.19" r="1.2"/><circle cx="144.09" cy="526.33" r="1.2"/><circle cx="144.98" cy="526.44" r="1.2"/><circle cx="145.87" cy="526.54" r="1.2"/><circle cx="146.76" cy="526.55" r="1.2"/><circle cx="147.65" cy="526.55" r="1.2"/><circle cx="148.54" cy="526.55" r="1.2"/><circle cx="149.43" cy="526.55" r="1.2"/><circle cx="150.32" cy="526.55" r="1.2"/><circle cx="151.21" cy="526.55" r="1.2"/><circle cx="152.1" cy="526.55" r="1.2"/></g>
<rect x="91.5" y="465.6" width="61.4" height="61.45" fill="none" stroke="#7c7c7c" stroke-width="1"/>
<path d="M91.5 496.33h1.8 M152.9 496.33h-1.8 M122.2 527.05v-1.8 M122.2 465.6v1.8" stroke="#7c7c7c" stroke-width="0.8" fill="none"/>
<text transform="translate(90.8 535.65) scale(1 1.1)" font-size="6.4" text-anchor="middle">−0.3</text>
<text transform="translate(122.5 535.65) scale(1 1.1)" font-size="6.4" text-anchor="middle">0.0</text>
<text transform="translate(153.2 535.65) scale(1 1.1)" font-size="6.4" text-anchor="middle">0.3</text>
<text transform="translate(122.55 541.95) scale(1 1.0)" font-size="7.4" text-anchor="middle">m<tspan font-size="4.6" dx="0.3" dy="2.9">32</tspan></text>
<polyline points="170.6,527.05 170.85,527.05 171.11,527.05 171.36,527.05 171.61,527.05 171.87,527.05 172.12,527.05 172.37,527.05 172.63,527.05 172.88,527.05 173.13,527.05 173.39,527.05 173.64,527.05 173.89,527.05 174.15,527.05 174.4,527.05 174.65,527.05 174.91,527.05 175.16,527.05 175.41,527.05 175.67,527.05 175.92,527.05 176.17,527.05 176.43,527.05 176.68,527.05 176.93,527.05 177.19,527.05 177.44,527.05 177.69,527.05 177.95,527.05 178.2,527.05 178.45,527.05 178.71,527.05 178.96,527.05 179.21,527.05 179.47,527.05 179.72,527.04 179.97,527.04 180.23,527.04 180.48,527.04 180.73,527.04 180.99,527.03 181.24,527.03 181.49,527.02 181.75,527.01 182,527.01 182.25,527 182.51,526.98 182.76,526.97 183.01,526.95 183.27,526.93 183.52,526.9 183.77,526.87 184.03,526.83 184.28,526.79 184.53,526.73 184.79,526.67 185.04,526.6 185.29,526.51 185.55,526.41 185.8,526.3 186.05,526.17 186.31,526.01 186.56,525.84 186.81,525.63 187.07,525.4 187.32,525.14 187.57,524.84 187.83,524.51 188.08,524.13 188.33,523.71 188.59,523.24 188.84,522.72 189.09,522.14 189.35,521.5 189.6,520.8 189.85,520.03 190.11,519.19 190.36,518.28 190.61,517.29 190.87,516.23 191.12,515.09 191.37,513.87 191.63,512.57 191.88,511.2 192.13,509.75 192.39,508.23 192.64,506.63 192.89,504.98 193.15,503.26 193.4,501.5 193.65,499.69 193.91,497.84 194.16,495.97 194.41,494.08 194.67,492.19 194.92,490.3 195.17,488.44 195.43,486.61 195.68,484.83 195.93,483.11 196.19,481.46 196.44,479.9 196.69,478.45 196.95,477.1 197.2,475.88 197.45,474.8 197.71,473.86 197.96,473.08 198.21,472.46 198.47,472.01 198.72,471.73 198.97,471.62 199.23,471.69 199.48,471.94 199.73,472.35 199.99,472.94 200.24,473.69 200.49,474.59 200.75,475.64 201,476.83 201.25,478.15 201.51,479.59 201.76,481.13 202.01,482.75 202.27,484.46 202.52,486.23 202.77,488.05 203.03,489.91 203.28,491.79 203.53,493.68 203.79,495.57 204.04,497.45 204.29,499.3 204.55,501.12 204.8,502.9 205.05,504.62 205.31,506.29 205.56,507.9 205.81,509.43 206.07,510.9 206.32,512.29 206.57,513.6 206.83,514.84 207.08,515.99 207.33,517.07 207.59,518.07 207.84,519 208.09,519.85 208.35,520.64 208.6,521.36 208.85,522.01 209.11,522.6 209.36,523.13 209.61,523.62 209.87,524.05 210.12,524.43 210.37,524.78 210.63,525.08 210.88,525.35 211.13,525.59 211.39,525.8 211.64,525.98 211.89,526.14 212.15,526.27 212.4,526.39 212.65,526.49 212.91,526.58 213.16,526.66 213.41,526.72 213.67,526.78 213.92,526.82 214.17,526.86 214.43,526.89 214.68,526.92 214.93,526.94 215.19,526.96 215.44,526.98 215.69,526.99 215.95,527 216.2,527.01 216.45,527.02 216.71,527.03 216.96,527.03 217.21,527.03 217.47,527.04 217.72,527.04 217.97,527.04 218.23,527.04 218.48,527.05 218.73,527.05 218.99,527.05 219.24,527.05 219.49,527.05 219.75,527.05 220,527.05 220.25,527.05 220.51,527.05 220.76,527.05 221.01,527.05 221.27,527.05 221.52,527.05 221.77,527.05 222.03,527.05 222.28,527.05 222.53,527.05 222.79,527.05 223.04,527.05 223.29,527.05 223.55,527.05 223.8,527.05 224.05,527.05 224.31,527.05 224.56,527.05 224.81,527.05 225.07,527.05 225.32,527.05 225.57,527.05 225.83,527.05 226.08,527.05 226.33,527.05 226.59,527.05 226.84,527.05 227.09,527.05 227.35,527.05 227.6,527.05 227.85,527.05 228.11,527.05 228.36,527.05 228.61,527.05 228.87,527.05 229.12,527.05 229.37,527.05 229.63,527.05 229.88,527.05 230.13,527.05 230.39,527.05 230.64,527.05 230.89,527.05 231.15,527.05 231.4,527.05" fill="none" stroke="#ec8c80" stroke-width="0.85"/>
<g fill="#0a0505"><circle cx="171.68" cy="526.55" r="1.2"/><circle cx="172.86" cy="526.55" r="1.2"/><circle cx="174.04" cy="526.55" r="1.2"/><circle cx="175.22" cy="526.55" r="1.2"/><circle cx="176.4" cy="526.55" r="1.2"/><circle cx="177.58" cy="526.55" r="1.2"/><circle cx="178.76" cy="526.55" r="1.2"/><circle cx="179.94" cy="526.55" r="1.2"/><circle cx="181.12" cy="526.55" r="1.2"/><circle cx="182.3" cy="526.55" r="1.2"/><circle cx="183.48" cy="526.55" r="1.2"/><circle cx="184.66" cy="526.55" r="1.2"/><circle cx="185.84" cy="526.28" r="1.2"/><circle cx="187.02" cy="525.45" r="1.2"/><circle cx="188.2" cy="523.94" r="1.2"/><circle cx="189.38" cy="521.41" r="1.2"/><circle cx="190.56" cy="517.5" r="1.2"/><circle cx="191.74" cy="511.97" r="1.2"/><circle cx="192.92" cy="504.8" r="1.2"/><circle cx="194.1" cy="496.41" r="1.2"/><circle cx="195.28" cy="487.66" r="1.2"/><circle cx="196.46" cy="479.78" r="1.2"/><circle cx="197.64" cy="474.1" r="1.2"/><circle cx="198.82" cy="471.67" r="1.2"/><circle cx="200" cy="472.97" r="1.2"/><circle cx="201.18" cy="477.76" r="1.2"/><circle cx="202.36" cy="485.11" r="1.2"/><circle cx="203.54" cy="493.73" r="1.2"/><circle cx="204.72" cy="502.34" r="1.2"/><circle cx="205.9" cy="509.94" r="1.2"/><circle cx="207.08" cy="515.99" r="1.2"/><circle cx="208.26" cy="520.38" r="1.2"/><circle cx="209.44" cy="523.29" r="1.2"/><circle cx="210.62" cy="525.07" r="1.2"/><circle cx="211.8" cy="526.08" r="1.2"/><circle cx="212.98" cy="526.55" r="1.2"/><circle cx="214.16" cy="526.55" r="1.2"/><circle cx="215.34" cy="526.55" r="1.2"/><circle cx="216.52" cy="526.55" r="1.2"/><circle cx="217.7" cy="526.55" r="1.2"/><circle cx="218.88" cy="526.55" r="1.2"/><circle cx="220.06" cy="526.55" r="1.2"/><circle cx="221.24" cy="526.55" r="1.2"/><circle cx="222.42" cy="526.55" r="1.2"/><circle cx="223.6" cy="526.55" r="1.2"/><circle cx="224.78" cy="526.55" r="1.2"/><circle cx="225.96" cy="526.55" r="1.2"/><circle cx="227.14" cy="526.55" r="1.2"/><circle cx="228.32" cy="526.55" r="1.2"/><circle cx="229.5" cy="526.55" r="1.2"/><circle cx="230.68" cy="526.55" r="1.2"/></g>
<rect x="170.6" y="465.6" width="60.8" height="61.45" fill="none" stroke="#7c7c7c" stroke-width="1"/>
<path d="M170.6 496.33h1.8 M231.4 496.33h-1.8 M201 527.05v-1.8 M201 465.6v1.8" stroke="#7c7c7c" stroke-width="0.8" fill="none"/>
<text transform="translate(170.9 535.65) scale(1 1.1)" font-size="6.4" text-anchor="middle">0.0</text>
<text transform="translate(201.3 535.65) scale(1 1.1)" font-size="6.4" text-anchor="middle">0.2</text>
<text transform="translate(231.7 535.65) scale(1 1.1)" font-size="6.4" text-anchor="middle">0.4</text>
<text transform="translate(201.35 541.95) scale(1 1.0)" font-size="7.4" text-anchor="middle">m<tspan font-size="4.6" dx="0.3" dy="2.9">33</tspan></text>
<polyline points="249,527.05 249.26,527.05 249.51,527.05 249.77,527.05 250.03,527.05 250.28,527.05 250.54,527.05 250.79,527.05 251.05,527.05 251.31,527.05 251.56,527.05 251.82,527.05 252.07,527.05 252.33,527.05 252.59,527.05 252.84,527.05 253.1,527.05 253.36,527.05 253.61,527.05 253.87,527.05 254.12,527.05 254.38,527.05 254.64,527.05 254.89,527.05 255.15,527.05 255.41,527.05 255.66,527.05 255.92,527.05 256.18,527.05 256.43,527.04 256.69,527.04 256.94,527.04 257.2,527.04 257.46,527.03 257.71,527.03 257.97,527.02 258.23,527.02 258.48,527.01 258.74,527 258.99,526.98 259.25,526.96 259.51,526.94 259.76,526.91 260.02,526.88 260.27,526.84 260.53,526.79 260.79,526.73 261.04,526.65 261.3,526.56 261.56,526.46 261.81,526.33 262.07,526.18 262.32,526.01 262.58,525.8 262.84,525.56 263.09,525.28 263.35,524.96 263.61,524.59 263.86,524.16 264.12,523.67 264.38,523.12 264.63,522.5 264.89,521.8 265.14,521.02 265.4,520.16 265.66,519.2 265.91,518.14 266.17,516.99 266.43,515.74 266.68,514.38 266.94,512.92 267.19,511.36 267.45,509.7 267.71,507.94 267.96,506.1 268.22,504.17 268.48,502.17 268.73,500.11 268.99,498 269.24,495.85 269.5,493.69 269.76,491.53 270.01,489.39 270.27,487.29 270.52,485.24 270.78,483.28 271.04,481.41 271.29,479.67 271.55,478.06 271.81,476.61 272.06,475.34 272.32,474.26 272.57,473.39 272.83,472.72 273.09,472.28 273.34,472.07 273.6,472.09 273.86,472.34 274.11,472.82 274.37,473.52 274.62,474.43 274.88,475.55 275.14,476.85 275.39,478.32 275.65,479.95 275.91,481.72 276.16,483.6 276.42,485.58 276.68,487.64 276.93,489.75 277.19,491.9 277.44,494.06 277.7,496.22 277.96,498.36 278.21,500.46 278.47,502.51 278.73,504.5 278.98,506.42 279.24,508.25 279.49,509.99 279.75,511.63 280.01,513.18 280.26,514.62 280.52,515.96 280.77,517.2 281.03,518.33 281.29,519.37 281.54,520.31 281.8,521.16 282.06,521.93 282.31,522.61 282.57,523.22 282.82,523.76 283.08,524.24 283.34,524.65 283.59,525.02 283.85,525.33 284.11,525.6 284.36,525.84 284.62,526.04 284.88,526.21 285.13,526.36 285.39,526.48 285.64,526.58 285.9,526.67 286.16,526.74 286.41,526.8 286.67,526.85 286.93,526.89 287.18,526.92 287.44,526.95 287.69,526.97 287.95,526.98 288.21,527 288.46,527.01 288.72,527.02 288.98,527.03 289.23,527.03 289.49,527.04 289.74,527.04 290,527.04 290.26,527.04 290.51,527.05 290.77,527.05 291.02,527.05 291.28,527.05 291.54,527.05 291.79,527.05 292.05,527.05 292.31,527.05 292.56,527.05 292.82,527.05 293.07,527.05 293.33,527.05 293.59,527.05 293.84,527.05 294.1,527.05 294.36,527.05 294.61,527.05 294.87,527.05 295.12,527.05 295.38,527.05 295.64,527.05 295.89,527.05 296.15,527.05 296.41,527.05 296.66,527.05 296.92,527.05 297.18,527.05 297.43,527.05 297.69,527.05 297.94,527.05 298.2,527.05 298.46,527.05 298.71,527.05 298.97,527.05 299.23,527.05 299.48,527.05 299.74,527.05 299.99,527.05 300.25,527.05 300.51,527.05 300.76,527.05 301.02,527.05 301.27,527.05 301.53,527.05 301.79,527.05 302.04,527.05 302.3,527.05 302.56,527.05 302.81,527.05 303.07,527.05 303.32,527.05 303.58,527.05 303.84,527.05 304.09,527.05 304.35,527.05 304.61,527.05 304.86,527.05 305.12,527.05 305.38,527.05 305.63,527.05 305.89,527.05 306.14,527.05 306.4,527.05 306.66,527.05 306.91,527.05 307.17,527.05 307.43,527.05 307.68,527.05 307.94,527.05 308.19,527.05 308.45,527.05 308.71,527.05 308.96,527.05 309.22,527.05 309.48,527.05 309.73,527.05 309.99,527.05 310.24,527.05 310.5,527.05" fill="none" stroke="#ec8c80" stroke-width="0.85"/>
<g fill="#0a0505"><circle cx="249.48" cy="526.55" r="1.2"/><circle cx="250.7" cy="526.55" r="1.2"/><circle cx="251.92" cy="526.55" r="1.2"/><circle cx="253.14" cy="526.55" r="1.2"/><circle cx="254.36" cy="526.55" r="1.2"/><circle cx="255.58" cy="526.55" r="1.2"/><circle cx="256.8" cy="526.55" r="1.2"/><circle cx="258.02" cy="526.55" r="1.2"/><circle cx="259.24" cy="526.55" r="1.2"/><circle cx="260.46" cy="526.43" r="1.2"/><circle cx="261.68" cy="525.96" r="1.2"/><circle cx="262.9" cy="525.03" r="1.2"/><circle cx="264.12" cy="523.24" r="1.2"/><circle cx="265.34" cy="520.06" r="1.2"/><circle cx="266.56" cy="514.91" r="1.2"/><circle cx="267.78" cy="507.45" r="1.2"/><circle cx="269" cy="498.01" r="1.2"/><circle cx="270.22" cy="487.76" r="1.2"/><circle cx="271.44" cy="478.68" r="1.2"/><circle cx="272.66" cy="472.98" r="1.2"/><circle cx="273.88" cy="472.17" r="1.2"/><circle cx="275.1" cy="476.12" r="1.2"/><circle cx="276.32" cy="483.72" r="1.2"/><circle cx="277.54" cy="493.16" r="1.2"/><circle cx="278.76" cy="502.56" r="1.2"/><circle cx="279.98" cy="510.55" r="1.2"/><circle cx="281.2" cy="516.53" r="1.2"/><circle cx="282.42" cy="520.52" r="1.2"/><circle cx="283.64" cy="522.97" r="1.2"/><circle cx="284.86" cy="524.38" r="1.2"/><circle cx="286.08" cy="525.17" r="1.2"/><circle cx="287.3" cy="525.65" r="1.2"/><circle cx="288.52" cy="525.96" r="1.2"/><circle cx="289.74" cy="526.19" r="1.2"/><circle cx="290.96" cy="526.37" r="1.2"/><circle cx="292.18" cy="526.52" r="1.2"/><circle cx="293.4" cy="526.55" r="1.2"/><circle cx="294.62" cy="526.55" r="1.2"/><circle cx="295.84" cy="526.55" r="1.2"/><circle cx="297.06" cy="526.55" r="1.2"/><circle cx="298.28" cy="526.55" r="1.2"/><circle cx="299.5" cy="526.55" r="1.2"/><circle cx="300.72" cy="526.55" r="1.2"/><circle cx="301.94" cy="526.55" r="1.2"/><circle cx="303.16" cy="526.55" r="1.2"/><circle cx="304.38" cy="526.55" r="1.2"/><circle cx="305.6" cy="526.55" r="1.2"/><circle cx="306.82" cy="526.55" r="1.2"/><circle cx="308.04" cy="526.55" r="1.2"/><circle cx="309.26" cy="526.55" r="1.2"/></g>
<rect x="249" y="465.6" width="61.5" height="61.45" fill="none" stroke="#7c7c7c" stroke-width="1"/>
<path d="M249 496.33h1.8 M310.5 496.33h-1.8 M279.75 527.05v-1.8 M279.75 465.6v1.8" stroke="#7c7c7c" stroke-width="0.8" fill="none"/>
<text transform="translate(249.3 535.65) scale(1 1.1)" font-size="6.4" text-anchor="middle">0.2</text>
<text transform="translate(280.05 535.65) scale(1 1.1)" font-size="6.4" text-anchor="middle">0.4</text>
<text transform="translate(310.8 535.65) scale(1 1.1)" font-size="6.4" text-anchor="middle">0.6</text>
<text transform="translate(280.1 541.95) scale(1 1.0)" font-size="7.4" text-anchor="middle">m<tspan font-size="4.6" dx="0.3" dy="2.9">34</tspan></text>
<text transform="translate(313.3 468) scale(1 1.17)" font-size="6.0">1.0</text>
<text transform="translate(313.3 498.73) scale(1 1.17)" font-size="6.0">0.5</text>
<text transform="translate(313.3 529.45) scale(1 1.17)" font-size="6.0">0.0</text>
<text transform="translate(328.3 496.33) rotate(-90) scale(1.1 1)" font-size="6.9" text-anchor="middle">Counts (a.u.)</text>
</svg></body></html>
